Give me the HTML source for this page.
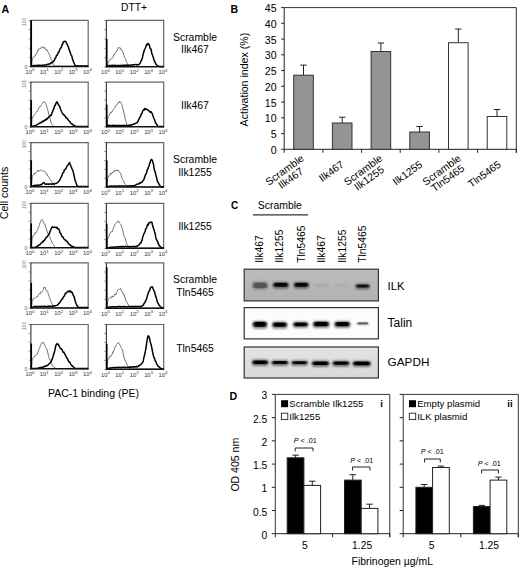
<!DOCTYPE html>
<html><head><meta charset="utf-8"><style>
html,body{margin:0;padding:0;background:#fff;width:520px;height:570px;overflow:hidden}
svg{display:block}
</style></head><body>
<svg width="520" height="570" viewBox="0 0 520 570" font-family="Liberation Sans, sans-serif" fill="#000">
<text x="1.5" y="12.7" font-size="10.6" font-weight="bold">A</text>
<text x="121" y="10.6" font-size="10.3">DTT+</text>
<path d="M30.6,20.4 H88.2 V67.4" fill="none" stroke="#666" stroke-width="1.2"/>
<line x1="28.6" y1="66.6" x2="30.6" y2="66.6" stroke="#888" stroke-width="0.8"/>
<line x1="28.6" y1="57.4" x2="30.6" y2="57.4" stroke="#888" stroke-width="0.8"/>
<line x1="28.6" y1="48.1" x2="30.6" y2="48.1" stroke="#888" stroke-width="0.8"/>
<line x1="28.6" y1="38.9" x2="30.6" y2="38.9" stroke="#888" stroke-width="0.8"/>
<line x1="28.6" y1="29.6" x2="30.6" y2="29.6" stroke="#888" stroke-width="0.8"/>
<line x1="28.6" y1="20.4" x2="30.6" y2="20.4" stroke="#888" stroke-width="0.8"/>
<path d="M31.50,66.20 L32.07,60.53 L32.63,58.55 L33.20,57.74 L33.77,56.61 L34.34,56.00 L34.90,56.46 L35.47,55.94 L36.04,53.55 L36.60,53.67 L37.17,52.70 L37.74,50.14 L38.30,50.31 L38.87,48.82 L39.44,49.05 L40.01,48.29 L40.57,48.89 L41.14,47.56 L41.71,46.80 L42.27,47.31 L42.84,46.77 L43.41,46.96 L43.97,48.42 L44.54,47.37 L45.11,48.16 L45.67,49.25 L46.24,50.36 L46.81,49.45 L47.38,51.23 L47.94,51.85 L48.51,52.74 L49.08,54.25 L49.64,55.12 L50.21,57.35 L50.78,58.07 L51.34,59.94 L51.91,60.71 L52.48,62.31 L53.05,64.26 L53.61,64.94 L54.18,65.48 L54.75,65.71 L55.31,66.16 L55.88,66.20 L56.45,66.20 L57.02,66.20 L57.58,66.20 L58.15,66.20 L58.72,66.20 L59.28,66.20 L59.85,66.20 L60.42,66.20 L60.98,66.20 L61.55,66.20 L62.12,66.20 L62.69,66.20 L63.25,66.20 L63.82,66.20 L64.39,66.20 L64.95,66.20 L65.52,66.20 L66.09,66.20 L66.65,66.20 L67.22,66.20 L67.79,66.20 L68.36,66.20 L68.92,66.20 L69.49,66.20 L70.06,66.20 L70.62,66.20 L71.19,66.20 L71.76,66.20 L72.32,66.20 L72.89,66.20 L73.46,66.20 L74.03,66.20 L74.59,66.20 L75.16,66.20 L75.73,66.20 L76.29,66.20 L76.86,66.20 L77.43,66.20 L77.99,66.20 L78.56,66.20 L79.13,66.20 L79.69,66.20 L80.26,66.20 L80.83,66.20 L81.40,66.20 L81.96,66.20 L82.53,66.20 L83.10,66.20 L83.66,66.20 L84.23,66.20 L84.80,66.20 L85.37,66.20 L85.93,66.20 L86.50,66.20 L87.07,66.20 L87.63,66.20 L88.20,66.20" fill="none" stroke="#585858" stroke-width="0.85" stroke-linejoin="round"/>
<path d="M31.50,66.10 L32.07,65.94 L32.63,65.78 L33.20,65.61 L33.77,65.67 L34.34,65.58 L34.90,65.60 L35.47,65.59 L36.04,65.50 L36.60,65.49 L37.17,65.37 L37.74,65.43 L38.30,65.33 L38.87,65.35 L39.44,65.28 L40.01,65.38 L40.57,65.54 L41.14,65.25 L41.71,65.17 L42.27,65.14 L42.84,65.23 L43.41,65.11 L43.97,65.26 L44.54,64.92 L45.11,64.96 L45.67,65.01 L46.24,65.03 L46.81,64.53 L47.38,64.32 L47.94,64.67 L48.51,64.05 L49.08,64.07 L49.64,64.00 L50.21,63.63 L50.78,62.98 L51.34,62.57 L51.91,62.90 L52.48,61.99 L53.05,62.04 L53.61,60.84 L54.18,60.61 L54.75,59.27 L55.31,58.12 L55.88,57.51 L56.45,55.54 L57.02,55.26 L57.58,54.47 L58.15,52.54 L58.72,52.38 L59.28,51.01 L59.85,49.58 L60.42,48.17 L60.98,47.82 L61.55,46.86 L62.12,44.35 L62.69,44.19 L63.25,42.18 L63.82,41.48 L64.39,41.59 L64.95,41.24 L65.52,41.61 L66.09,42.25 L66.65,43.30 L67.22,44.49 L67.79,45.82 L68.36,46.84 L68.92,49.10 L69.49,50.63 L70.06,51.55 L70.62,53.76 L71.19,55.17 L71.76,55.87 L72.32,58.21 L72.89,59.83 L73.46,61.86 L74.03,62.99 L74.59,64.26 L75.16,65.38 L75.73,65.60 L76.29,65.97 L76.86,66.10 L77.43,66.10 L77.99,66.10 L78.56,66.10 L79.13,66.10 L79.69,66.10 L80.26,66.10 L80.83,66.10 L81.40,66.10 L81.96,66.10 L82.53,66.10 L83.10,66.10 L83.66,66.10 L84.23,66.10 L84.80,66.10 L85.37,66.10 L85.93,66.10 L86.50,66.10 L87.07,66.10 L87.63,66.10 L88.20,66.10" fill="none" stroke="#000" stroke-width="1.5" stroke-linejoin="round"/>
<line x1="30.9" y1="19.9" x2="30.9" y2="67.4" stroke="#333" stroke-width="1.1"/>
<line x1="31.2" y1="20.4" x2="31.2" y2="66.6" stroke="#000" stroke-width="1.7"/>
<line x1="30.6" y1="66.4" x2="88.2" y2="66.4" stroke="#111" stroke-width="1.5"/>
<text transform="translate(26.2,21.9) rotate(-90)" font-size="5" fill="#777" text-anchor="middle">100</text>
<text x="27.4" y="68.6" font-size="5" fill="#555" text-anchor="end">0</text>
<text x="29.9" y="73.9" font-size="5.8" fill="#333" text-anchor="middle">10<tspan dy="-2.6" font-size="4.4">0</tspan></text>
<text x="44.3" y="73.9" font-size="5.8" fill="#333" text-anchor="middle">10<tspan dy="-2.6" font-size="4.4">1</tspan></text>
<text x="58.7" y="73.9" font-size="5.8" fill="#333" text-anchor="middle">10<tspan dy="-2.6" font-size="4.4">2</tspan></text>
<text x="73.1" y="73.9" font-size="5.8" fill="#333" text-anchor="middle">10<tspan dy="-2.6" font-size="4.4">3</tspan></text>
<text x="87.5" y="73.9" font-size="5.8" fill="#333" text-anchor="middle">10<tspan dy="-2.6" font-size="4.4">4</tspan></text>
<path d="M106.1,20.4 H163.7 V67.7" fill="none" stroke="#666" stroke-width="1.2"/>
<line x1="104.1" y1="66.9" x2="106.1" y2="66.9" stroke="#888" stroke-width="0.8"/>
<line x1="104.1" y1="57.6" x2="106.1" y2="57.6" stroke="#888" stroke-width="0.8"/>
<line x1="104.1" y1="48.3" x2="106.1" y2="48.3" stroke="#888" stroke-width="0.8"/>
<line x1="104.1" y1="39.0" x2="106.1" y2="39.0" stroke="#888" stroke-width="0.8"/>
<line x1="104.1" y1="29.7" x2="106.1" y2="29.7" stroke="#888" stroke-width="0.8"/>
<line x1="104.1" y1="20.4" x2="106.1" y2="20.4" stroke="#888" stroke-width="0.8"/>
<path d="M107.00,66.50 L107.57,64.01 L108.13,63.12 L108.70,61.46 L109.27,60.80 L109.83,59.79 L110.40,59.62 L110.97,58.52 L111.54,57.90 L112.10,58.46 L112.67,57.77 L113.24,55.96 L113.80,54.56 L114.37,54.96 L114.94,53.63 L115.50,52.38 L116.07,51.98 L116.64,50.95 L117.21,50.11 L117.77,48.87 L118.34,47.50 L118.91,47.85 L119.47,47.89 L120.04,47.49 L120.61,49.59 L121.17,49.16 L121.74,49.56 L122.31,51.32 L122.88,52.79 L123.44,53.18 L124.01,55.88 L124.58,57.50 L125.14,58.44 L125.71,59.45 L126.28,61.63 L126.84,62.61 L127.41,63.67 L127.98,64.10 L128.55,65.13 L129.11,65.50 L129.68,66.16 L130.25,66.27 L130.81,66.38 L131.38,66.48 L131.95,66.50 L132.51,66.50 L133.08,66.50 L133.65,66.50 L134.22,66.50 L134.78,66.50 L135.35,66.50 L135.92,66.50 L136.48,66.50 L137.05,66.50 L137.62,66.50 L138.19,66.50 L138.75,66.50 L139.32,66.50 L139.89,66.50 L140.45,66.50 L141.02,66.50 L141.59,66.50 L142.15,66.50 L142.72,66.50 L143.29,66.50 L143.85,66.50 L144.42,66.50 L144.99,66.50 L145.56,66.50 L146.12,66.50 L146.69,66.50 L147.26,66.50 L147.82,66.50 L148.39,66.50 L148.96,66.50 L149.52,66.50 L150.09,66.50 L150.66,66.50 L151.23,66.50 L151.79,66.50 L152.36,66.50 L152.93,66.50 L153.49,66.50 L154.06,66.50 L154.63,66.50 L155.19,66.50 L155.76,66.50 L156.33,66.50 L156.90,66.50 L157.46,66.50 L158.03,66.50 L158.60,66.50 L159.16,66.50 L159.73,66.50 L160.30,66.50 L160.86,66.50 L161.43,66.50 L162.00,66.50 L162.57,66.50 L163.13,66.50 L163.70,66.50" fill="none" stroke="#585858" stroke-width="0.85" stroke-linejoin="round"/>
<path d="M107.00,66.40 L107.57,66.18 L108.13,65.89 L108.70,65.56 L109.27,65.56 L109.83,65.59 L110.40,65.63 L110.97,65.46 L111.54,65.60 L112.10,65.34 L112.67,65.32 L113.24,65.61 L113.80,65.57 L114.37,65.34 L114.94,65.41 L115.50,65.34 L116.07,65.54 L116.64,65.63 L117.21,65.56 L117.77,65.34 L118.34,65.57 L118.91,65.54 L119.47,65.51 L120.04,65.50 L120.61,65.51 L121.17,65.29 L121.74,65.62 L122.31,65.68 L122.88,65.26 L123.44,65.27 L124.01,65.20 L124.58,65.42 L125.14,65.16 L125.71,65.14 L126.28,65.44 L126.84,65.16 L127.41,65.08 L127.98,65.13 L128.55,65.17 L129.11,65.25 L129.68,65.19 L130.25,65.22 L130.81,65.27 L131.38,64.97 L131.95,65.10 L132.51,64.79 L133.08,65.18 L133.65,64.69 L134.22,64.79 L134.78,64.64 L135.35,64.62 L135.92,64.59 L136.48,64.73 L137.05,65.01 L137.62,64.53 L138.19,64.81 L138.75,64.66 L139.32,64.12 L139.89,63.50 L140.45,62.62 L141.02,60.97 L141.59,60.00 L142.15,58.45 L142.72,56.38 L143.29,53.28 L143.85,52.07 L144.42,49.76 L144.99,48.77 L145.56,47.55 L146.12,45.88 L146.69,44.54 L147.26,44.92 L147.82,43.59 L148.39,43.68 L148.96,44.68 L149.52,45.76 L150.09,48.33 L150.66,48.61 L151.23,49.92 L151.79,53.20 L152.36,54.71 L152.93,56.45 L153.49,57.96 L154.06,59.93 L154.63,61.50 L155.19,62.44 L155.76,63.92 L156.33,64.57 L156.90,65.09 L157.46,65.54 L158.03,65.92 L158.60,66.02 L159.16,66.37 L159.73,66.40 L160.30,66.40 L160.86,66.40 L161.43,66.40 L162.00,66.40 L162.57,66.40 L163.13,66.40 L163.70,66.40" fill="none" stroke="#000" stroke-width="1.5" stroke-linejoin="round"/>
<line x1="106.4" y1="19.9" x2="106.4" y2="67.7" stroke="#333" stroke-width="1.1"/>
<line x1="106.7" y1="39.0" x2="106.7" y2="66.9" stroke="#000" stroke-width="1.7"/>
<line x1="106.1" y1="66.7" x2="163.7" y2="66.7" stroke="#111" stroke-width="1.5"/>
<text x="105.4" y="74.2" font-size="5.8" fill="#333" text-anchor="middle">10<tspan dy="-2.6" font-size="4.4">0</tspan></text>
<text x="119.8" y="74.2" font-size="5.8" fill="#333" text-anchor="middle">10<tspan dy="-2.6" font-size="4.4">1</tspan></text>
<text x="134.2" y="74.2" font-size="5.8" fill="#333" text-anchor="middle">10<tspan dy="-2.6" font-size="4.4">2</tspan></text>
<text x="148.6" y="74.2" font-size="5.8" fill="#333" text-anchor="middle">10<tspan dy="-2.6" font-size="4.4">3</tspan></text>
<text x="163.0" y="74.2" font-size="5.8" fill="#333" text-anchor="middle">10<tspan dy="-2.6" font-size="4.4">4</tspan></text>
<path d="M30.6,82.2 H88.2 V127.7" fill="none" stroke="#666" stroke-width="1.2"/>
<line x1="28.6" y1="126.9" x2="30.6" y2="126.9" stroke="#888" stroke-width="0.8"/>
<line x1="28.6" y1="118.0" x2="30.6" y2="118.0" stroke="#888" stroke-width="0.8"/>
<line x1="28.6" y1="109.0" x2="30.6" y2="109.0" stroke="#888" stroke-width="0.8"/>
<line x1="28.6" y1="100.1" x2="30.6" y2="100.1" stroke="#888" stroke-width="0.8"/>
<line x1="28.6" y1="91.1" x2="30.6" y2="91.1" stroke="#888" stroke-width="0.8"/>
<line x1="28.6" y1="82.2" x2="30.6" y2="82.2" stroke="#888" stroke-width="0.8"/>
<path d="M31.50,126.50 L32.07,118.30 L32.63,117.84 L33.20,116.01 L33.77,115.57 L34.34,115.01 L34.90,114.43 L35.47,113.22 L36.04,112.46 L36.60,111.95 L37.17,111.32 L37.74,110.09 L38.30,109.56 L38.87,107.82 L39.44,106.69 L40.01,106.62 L40.57,106.51 L41.14,105.58 L41.71,104.47 L42.27,103.33 L42.84,102.37 L43.41,102.66 L43.97,101.49 L44.54,101.68 L45.11,102.35 L45.67,103.61 L46.24,105.03 L46.81,106.46 L47.38,108.77 L47.94,110.29 L48.51,113.04 L49.08,115.75 L49.64,117.41 L50.21,119.14 L50.78,121.92 L51.34,123.27 L51.91,124.56 L52.48,125.03 L53.05,125.70 L53.61,126.33 L54.18,126.50 L54.75,126.50 L55.31,126.50 L55.88,126.50 L56.45,126.50 L57.02,126.50 L57.58,126.50 L58.15,126.50 L58.72,126.50 L59.28,126.50 L59.85,126.50 L60.42,126.50 L60.98,126.50 L61.55,126.50 L62.12,126.50 L62.69,126.50 L63.25,126.50 L63.82,126.50 L64.39,126.50 L64.95,126.50 L65.52,126.50 L66.09,126.50 L66.65,126.50 L67.22,126.50 L67.79,126.50 L68.36,126.50 L68.92,126.50 L69.49,126.50 L70.06,126.50 L70.62,126.50 L71.19,126.50 L71.76,126.50 L72.32,126.50 L72.89,126.50 L73.46,126.50 L74.03,126.50 L74.59,126.50 L75.16,126.50 L75.73,126.50 L76.29,126.50 L76.86,126.50 L77.43,126.50 L77.99,126.50 L78.56,126.50 L79.13,126.50 L79.69,126.50 L80.26,126.50 L80.83,126.50 L81.40,126.50 L81.96,126.50 L82.53,126.50 L83.10,126.50 L83.66,126.50 L84.23,126.50 L84.80,126.50 L85.37,126.50 L85.93,126.50 L86.50,126.50 L87.07,126.50 L87.63,126.50 L88.20,126.50" fill="none" stroke="#585858" stroke-width="0.85" stroke-linejoin="round"/>
<path d="M31.50,126.40 L32.07,126.31 L32.63,126.23 L33.20,126.17 L33.77,125.94 L34.34,125.83 L34.90,125.84 L35.47,125.57 L36.04,125.49 L36.60,124.89 L37.17,124.67 L37.74,124.21 L38.30,123.92 L38.87,123.64 L39.44,123.22 L40.01,122.98 L40.57,123.00 L41.14,122.21 L41.71,122.39 L42.27,121.91 L42.84,120.95 L43.41,121.37 L43.97,121.02 L44.54,120.71 L45.11,119.54 L45.67,120.01 L46.24,119.87 L46.81,118.55 L47.38,119.05 L47.94,117.75 L48.51,117.52 L49.08,116.81 L49.64,116.11 L50.21,116.04 L50.78,115.06 L51.34,115.26 L51.91,112.90 L52.48,111.90 L53.05,110.08 L53.61,109.59 L54.18,107.23 L54.75,105.50 L55.31,105.33 L55.88,103.52 L56.45,102.28 L57.02,101.80 L57.58,103.25 L58.15,104.22 L58.72,105.21 L59.28,105.82 L59.85,106.77 L60.42,108.67 L60.98,110.24 L61.55,111.54 L62.12,112.62 L62.69,113.41 L63.25,114.75 L63.82,114.87 L64.39,114.91 L64.95,116.39 L65.52,116.58 L66.09,117.99 L66.65,117.93 L67.22,118.49 L67.79,119.25 L68.36,120.09 L68.92,120.80 L69.49,121.31 L70.06,121.74 L70.62,123.03 L71.19,123.64 L71.76,123.71 L72.32,124.13 L72.89,124.83 L73.46,125.24 L74.03,125.42 L74.59,125.87 L75.16,126.07 L75.73,126.21 L76.29,126.35 L76.86,126.40 L77.43,126.40 L77.99,126.40 L78.56,126.40 L79.13,126.40 L79.69,126.40 L80.26,126.40 L80.83,126.40 L81.40,126.40 L81.96,126.40 L82.53,126.40 L83.10,126.40 L83.66,126.40 L84.23,126.40 L84.80,126.40 L85.37,126.40 L85.93,126.40 L86.50,126.40 L87.07,126.40 L87.63,126.40 L88.20,126.40" fill="none" stroke="#000" stroke-width="1.5" stroke-linejoin="round"/>
<line x1="30.9" y1="81.7" x2="30.9" y2="127.7" stroke="#333" stroke-width="1.1"/>
<line x1="31.2" y1="100.1" x2="31.2" y2="126.9" stroke="#000" stroke-width="1.7"/>
<line x1="30.6" y1="126.7" x2="88.2" y2="126.7" stroke="#111" stroke-width="1.5"/>
<text transform="translate(26.2,83.7) rotate(-90)" font-size="5" fill="#777" text-anchor="middle">100</text>
<text x="27.4" y="128.9" font-size="5" fill="#555" text-anchor="end">0</text>
<text x="29.9" y="134.2" font-size="5.8" fill="#333" text-anchor="middle">10<tspan dy="-2.6" font-size="4.4">0</tspan></text>
<text x="44.3" y="134.2" font-size="5.8" fill="#333" text-anchor="middle">10<tspan dy="-2.6" font-size="4.4">1</tspan></text>
<text x="58.7" y="134.2" font-size="5.8" fill="#333" text-anchor="middle">10<tspan dy="-2.6" font-size="4.4">2</tspan></text>
<text x="73.1" y="134.2" font-size="5.8" fill="#333" text-anchor="middle">10<tspan dy="-2.6" font-size="4.4">3</tspan></text>
<text x="87.5" y="134.2" font-size="5.8" fill="#333" text-anchor="middle">10<tspan dy="-2.6" font-size="4.4">4</tspan></text>
<path d="M106.1,82.2 H163.7 V127.7" fill="none" stroke="#666" stroke-width="1.2"/>
<line x1="104.1" y1="126.9" x2="106.1" y2="126.9" stroke="#888" stroke-width="0.8"/>
<line x1="104.1" y1="118.0" x2="106.1" y2="118.0" stroke="#888" stroke-width="0.8"/>
<line x1="104.1" y1="109.0" x2="106.1" y2="109.0" stroke="#888" stroke-width="0.8"/>
<line x1="104.1" y1="100.1" x2="106.1" y2="100.1" stroke="#888" stroke-width="0.8"/>
<line x1="104.1" y1="91.1" x2="106.1" y2="91.1" stroke="#888" stroke-width="0.8"/>
<line x1="104.1" y1="82.2" x2="106.1" y2="82.2" stroke="#888" stroke-width="0.8"/>
<path d="M107.00,126.50 L107.57,119.27 L108.13,116.87 L108.70,115.97 L109.27,115.12 L109.83,113.49 L110.40,112.38 L110.97,113.16 L111.54,111.84 L112.10,111.81 L112.67,110.16 L113.24,109.74 L113.80,109.37 L114.37,108.46 L114.94,107.85 L115.50,106.02 L116.07,105.37 L116.64,105.08 L117.21,104.15 L117.77,103.69 L118.34,102.29 L118.91,103.09 L119.47,101.11 L120.04,101.96 L120.61,102.01 L121.17,103.39 L121.74,104.32 L122.31,106.20 L122.88,108.56 L123.44,111.00 L124.01,113.15 L124.58,115.63 L125.14,118.86 L125.71,120.55 L126.28,122.52 L126.84,124.69 L127.41,125.63 L127.98,126.14 L128.55,126.41 L129.11,126.50 L129.68,126.50 L130.25,126.50 L130.81,126.50 L131.38,126.50 L131.95,126.50 L132.51,126.50 L133.08,126.50 L133.65,126.50 L134.22,126.50 L134.78,126.50 L135.35,126.50 L135.92,126.50 L136.48,126.50 L137.05,126.50 L137.62,126.50 L138.19,126.50 L138.75,126.50 L139.32,126.50 L139.89,126.50 L140.45,126.50 L141.02,126.50 L141.59,126.50 L142.15,126.50 L142.72,126.50 L143.29,126.50 L143.85,126.50 L144.42,126.50 L144.99,126.50 L145.56,126.50 L146.12,126.50 L146.69,126.50 L147.26,126.50 L147.82,126.50 L148.39,126.50 L148.96,126.50 L149.52,126.50 L150.09,126.50 L150.66,126.50 L151.23,126.50 L151.79,126.50 L152.36,126.50 L152.93,126.50 L153.49,126.50 L154.06,126.50 L154.63,126.50 L155.19,126.50 L155.76,126.50 L156.33,126.50 L156.90,126.50 L157.46,126.50 L158.03,126.50 L158.60,126.50 L159.16,126.50 L159.73,126.50 L160.30,126.50 L160.86,126.50 L161.43,126.50 L162.00,126.50 L162.57,126.50 L163.13,126.50 L163.70,126.50" fill="none" stroke="#585858" stroke-width="0.85" stroke-linejoin="round"/>
<path d="M107.00,126.40 L107.57,125.89 L108.13,125.50 L108.70,125.32 L109.27,125.36 L109.83,125.61 L110.40,125.63 L110.97,125.61 L111.54,125.64 L112.10,125.42 L112.67,125.36 L113.24,125.34 L113.80,125.61 L114.37,125.35 L114.94,125.58 L115.50,125.54 L116.07,125.41 L116.64,125.68 L117.21,125.68 L117.77,125.37 L118.34,125.59 L118.91,125.57 L119.47,125.47 L120.04,125.43 L120.61,125.71 L121.17,125.57 L121.74,125.53 L122.31,125.51 L122.88,125.63 L123.44,125.47 L124.01,125.32 L124.58,125.55 L125.14,125.49 L125.71,125.66 L126.28,125.60 L126.84,125.44 L127.41,125.67 L127.98,125.35 L128.55,125.33 L129.11,125.62 L129.68,125.17 L130.25,125.30 L130.81,124.96 L131.38,124.81 L131.95,124.89 L132.51,124.51 L133.08,124.35 L133.65,124.07 L134.22,124.23 L134.78,123.66 L135.35,123.24 L135.92,123.14 L136.48,122.89 L137.05,122.78 L137.62,121.73 L138.19,120.95 L138.75,119.47 L139.32,118.35 L139.89,117.29 L140.45,116.67 L141.02,114.89 L141.59,113.65 L142.15,113.10 L142.72,110.81 L143.29,110.31 L143.85,110.36 L144.42,108.44 L144.99,109.55 L145.56,109.34 L146.12,108.91 L146.69,109.37 L147.26,109.71 L147.82,109.83 L148.39,110.43 L148.96,111.00 L149.52,111.59 L150.09,112.19 L150.66,111.63 L151.23,112.12 L151.79,113.10 L152.36,113.78 L152.93,115.68 L153.49,117.33 L154.06,118.80 L154.63,119.85 L155.19,122.12 L155.76,122.82 L156.33,124.00 L156.90,124.68 L157.46,125.74 L158.03,126.26 L158.60,126.40 L159.16,126.40 L159.73,126.40 L160.30,126.40 L160.86,126.40 L161.43,126.40 L162.00,126.40 L162.57,126.40 L163.13,126.40 L163.70,126.40" fill="none" stroke="#000" stroke-width="1.5" stroke-linejoin="round"/>
<line x1="106.4" y1="81.7" x2="106.4" y2="127.7" stroke="#333" stroke-width="1.1"/>
<line x1="106.7" y1="104.6" x2="106.7" y2="126.9" stroke="#000" stroke-width="1.7"/>
<line x1="106.1" y1="126.7" x2="163.7" y2="126.7" stroke="#111" stroke-width="1.5"/>
<text x="105.4" y="134.2" font-size="5.8" fill="#333" text-anchor="middle">10<tspan dy="-2.6" font-size="4.4">0</tspan></text>
<text x="119.8" y="134.2" font-size="5.8" fill="#333" text-anchor="middle">10<tspan dy="-2.6" font-size="4.4">1</tspan></text>
<text x="134.2" y="134.2" font-size="5.8" fill="#333" text-anchor="middle">10<tspan dy="-2.6" font-size="4.4">2</tspan></text>
<text x="148.6" y="134.2" font-size="5.8" fill="#333" text-anchor="middle">10<tspan dy="-2.6" font-size="4.4">3</tspan></text>
<text x="163.0" y="134.2" font-size="5.8" fill="#333" text-anchor="middle">10<tspan dy="-2.6" font-size="4.4">4</tspan></text>
<path d="M30.6,142.6 H88.2 V187.7" fill="none" stroke="#666" stroke-width="1.2"/>
<line x1="28.6" y1="186.9" x2="30.6" y2="186.9" stroke="#888" stroke-width="0.8"/>
<line x1="28.6" y1="178.0" x2="30.6" y2="178.0" stroke="#888" stroke-width="0.8"/>
<line x1="28.6" y1="169.2" x2="30.6" y2="169.2" stroke="#888" stroke-width="0.8"/>
<line x1="28.6" y1="160.3" x2="30.6" y2="160.3" stroke="#888" stroke-width="0.8"/>
<line x1="28.6" y1="151.5" x2="30.6" y2="151.5" stroke="#888" stroke-width="0.8"/>
<line x1="28.6" y1="142.6" x2="30.6" y2="142.6" stroke="#888" stroke-width="0.8"/>
<path d="M31.50,186.50 L32.07,177.07 L32.63,175.79 L33.20,174.91 L33.77,174.07 L34.34,174.37 L34.90,172.78 L35.47,173.53 L36.04,172.55 L36.60,172.28 L37.17,171.76 L37.74,170.13 L38.30,170.11 L38.87,171.17 L39.44,171.16 L40.01,170.71 L40.57,170.08 L41.14,169.94 L41.71,170.07 L42.27,170.37 L42.84,171.28 L43.41,170.97 L43.97,171.64 L44.54,171.34 L45.11,171.65 L45.67,172.84 L46.24,173.47 L46.81,173.36 L47.38,175.78 L47.94,175.49 L48.51,176.44 L49.08,177.38 L49.64,179.12 L50.21,179.73 L50.78,180.54 L51.34,181.31 L51.91,181.75 L52.48,182.86 L53.05,183.95 L53.61,184.18 L54.18,185.24 L54.75,185.92 L55.31,186.43 L55.88,186.50 L56.45,186.50 L57.02,186.50 L57.58,186.50 L58.15,186.50 L58.72,186.50 L59.28,186.50 L59.85,186.50 L60.42,186.50 L60.98,186.50 L61.55,186.50 L62.12,186.50 L62.69,186.50 L63.25,186.50 L63.82,186.50 L64.39,186.50 L64.95,186.50 L65.52,186.50 L66.09,186.50 L66.65,186.50 L67.22,186.50 L67.79,186.50 L68.36,186.50 L68.92,186.50 L69.49,186.50 L70.06,186.50 L70.62,186.50 L71.19,186.50 L71.76,186.50 L72.32,186.50 L72.89,186.50 L73.46,186.50 L74.03,186.50 L74.59,186.50 L75.16,186.50 L75.73,186.50 L76.29,186.50 L76.86,186.50 L77.43,186.50 L77.99,186.50 L78.56,186.50 L79.13,186.50 L79.69,186.50 L80.26,186.50 L80.83,186.50 L81.40,186.50 L81.96,186.50 L82.53,186.50 L83.10,186.50 L83.66,186.50 L84.23,186.50 L84.80,186.50 L85.37,186.50 L85.93,186.50 L86.50,186.50 L87.07,186.50 L87.63,186.50 L88.20,186.50" fill="none" stroke="#585858" stroke-width="0.85" stroke-linejoin="round"/>
<path d="M31.50,186.40 L32.07,186.21 L32.63,185.95 L33.20,185.98 L33.77,185.54 L34.34,185.45 L34.90,185.42 L35.47,185.33 L36.04,185.30 L36.60,185.37 L37.17,185.17 L37.74,185.37 L38.30,185.10 L38.87,184.97 L39.44,185.01 L40.01,184.87 L40.57,184.56 L41.14,184.47 L41.71,184.70 L42.27,183.64 L42.84,182.96 L43.41,182.89 L43.97,182.63 L44.54,183.32 L45.11,184.13 L45.67,184.16 L46.24,183.91 L46.81,184.30 L47.38,183.94 L47.94,184.06 L48.51,184.42 L49.08,183.95 L49.64,184.12 L50.21,183.91 L50.78,184.04 L51.34,184.03 L51.91,184.29 L52.48,183.99 L53.05,183.90 L53.61,183.87 L54.18,184.03 L54.75,183.62 L55.31,183.58 L55.88,183.59 L56.45,183.33 L57.02,182.96 L57.58,182.47 L58.15,182.09 L58.72,181.32 L59.28,180.59 L59.85,179.91 L60.42,178.92 L60.98,177.33 L61.55,176.41 L62.12,174.81 L62.69,173.08 L63.25,172.58 L63.82,171.98 L64.39,169.95 L64.95,169.38 L65.52,169.09 L66.09,168.22 L66.65,167.00 L67.22,165.75 L67.79,165.19 L68.36,164.54 L68.92,163.55 L69.49,162.51 L70.06,164.30 L70.62,165.14 L71.19,166.95 L71.76,168.16 L72.32,169.53 L72.89,170.65 L73.46,172.88 L74.03,175.61 L74.59,178.21 L75.16,180.53 L75.73,181.88 L76.29,183.76 L76.86,185.08 L77.43,185.88 L77.99,186.38 L78.56,186.40 L79.13,186.40 L79.69,186.40 L80.26,186.40 L80.83,186.40 L81.40,186.40 L81.96,186.40 L82.53,186.40 L83.10,186.40 L83.66,186.40 L84.23,186.40 L84.80,186.40 L85.37,186.40 L85.93,186.40 L86.50,186.40 L87.07,186.40 L87.63,186.40 L88.20,186.40" fill="none" stroke="#000" stroke-width="1.5" stroke-linejoin="round"/>
<line x1="30.9" y1="142.1" x2="30.9" y2="187.7" stroke="#333" stroke-width="1.1"/>
<line x1="31.2" y1="160.3" x2="31.2" y2="186.9" stroke="#000" stroke-width="1.7"/>
<line x1="30.6" y1="186.7" x2="88.2" y2="186.7" stroke="#111" stroke-width="1.5"/>
<text transform="translate(26.2,144.1) rotate(-90)" font-size="5" fill="#777" text-anchor="middle">100</text>
<text x="27.4" y="188.9" font-size="5" fill="#555" text-anchor="end">0</text>
<text x="29.9" y="194.2" font-size="5.8" fill="#333" text-anchor="middle">10<tspan dy="-2.6" font-size="4.4">0</tspan></text>
<text x="44.3" y="194.2" font-size="5.8" fill="#333" text-anchor="middle">10<tspan dy="-2.6" font-size="4.4">1</tspan></text>
<text x="58.7" y="194.2" font-size="5.8" fill="#333" text-anchor="middle">10<tspan dy="-2.6" font-size="4.4">2</tspan></text>
<text x="73.1" y="194.2" font-size="5.8" fill="#333" text-anchor="middle">10<tspan dy="-2.6" font-size="4.4">3</tspan></text>
<text x="87.5" y="194.2" font-size="5.8" fill="#333" text-anchor="middle">10<tspan dy="-2.6" font-size="4.4">4</tspan></text>
<path d="M106.1,142.6 H163.7 V188.0" fill="none" stroke="#666" stroke-width="1.2"/>
<line x1="104.1" y1="187.2" x2="106.1" y2="187.2" stroke="#888" stroke-width="0.8"/>
<line x1="104.1" y1="178.3" x2="106.1" y2="178.3" stroke="#888" stroke-width="0.8"/>
<line x1="104.1" y1="169.4" x2="106.1" y2="169.4" stroke="#888" stroke-width="0.8"/>
<line x1="104.1" y1="160.4" x2="106.1" y2="160.4" stroke="#888" stroke-width="0.8"/>
<line x1="104.1" y1="151.5" x2="106.1" y2="151.5" stroke="#888" stroke-width="0.8"/>
<line x1="104.1" y1="142.6" x2="106.1" y2="142.6" stroke="#888" stroke-width="0.8"/>
<path d="M107.00,186.80 L107.57,178.45 L108.13,176.45 L108.70,176.52 L109.27,175.16 L109.83,174.66 L110.40,174.97 L110.97,172.75 L111.54,173.71 L112.10,173.44 L112.67,172.18 L113.24,172.31 L113.80,170.97 L114.37,171.14 L114.94,171.29 L115.50,171.24 L116.07,169.85 L116.64,170.78 L117.21,169.89 L117.77,170.70 L118.34,170.01 L118.91,171.51 L119.47,172.06 L120.04,172.96 L120.61,173.21 L121.17,175.13 L121.74,177.28 L122.31,179.26 L122.88,179.83 L123.44,180.63 L124.01,181.95 L124.58,183.36 L125.14,183.99 L125.71,184.55 L126.28,185.03 L126.84,185.60 L127.41,185.97 L127.98,186.01 L128.55,186.30 L129.11,186.69 L129.68,186.80 L130.25,186.80 L130.81,186.80 L131.38,186.80 L131.95,186.80 L132.51,186.80 L133.08,186.80 L133.65,186.80 L134.22,186.80 L134.78,186.80 L135.35,186.80 L135.92,186.80 L136.48,186.80 L137.05,186.80 L137.62,186.80 L138.19,186.80 L138.75,186.80 L139.32,186.80 L139.89,186.80 L140.45,186.80 L141.02,186.80 L141.59,186.80 L142.15,186.80 L142.72,186.80 L143.29,186.80 L143.85,186.80 L144.42,186.80 L144.99,186.80 L145.56,186.80 L146.12,186.80 L146.69,186.80 L147.26,186.80 L147.82,186.80 L148.39,186.80 L148.96,186.80 L149.52,186.80 L150.09,186.80 L150.66,186.80 L151.23,186.80 L151.79,186.80 L152.36,186.80 L152.93,186.80 L153.49,186.80 L154.06,186.80 L154.63,186.80 L155.19,186.80 L155.76,186.80 L156.33,186.80 L156.90,186.80 L157.46,186.80 L158.03,186.80 L158.60,186.80 L159.16,186.80 L159.73,186.80 L160.30,186.80 L160.86,186.80 L161.43,186.80 L162.00,186.80 L162.57,186.80 L163.13,186.80 L163.70,186.80" fill="none" stroke="#585858" stroke-width="0.85" stroke-linejoin="round"/>
<path d="M107.00,186.70 L107.57,186.60 L108.13,186.49 L108.70,186.46 L109.27,186.17 L109.83,186.26 L110.40,186.14 L110.97,186.08 L111.54,186.05 L112.10,186.32 L112.67,186.22 L113.24,186.11 L113.80,185.98 L114.37,186.26 L114.94,186.18 L115.50,185.98 L116.07,186.22 L116.64,186.12 L117.21,186.14 L117.77,186.01 L118.34,185.92 L118.91,186.18 L119.47,185.98 L120.04,185.97 L120.61,185.94 L121.17,186.03 L121.74,185.90 L122.31,186.09 L122.88,186.07 L123.44,186.13 L124.01,185.93 L124.58,186.04 L125.14,186.11 L125.71,186.14 L126.28,185.93 L126.84,185.97 L127.41,185.92 L127.98,186.03 L128.55,185.98 L129.11,186.10 L129.68,185.87 L130.25,186.12 L130.81,185.94 L131.38,185.81 L131.95,185.82 L132.51,186.03 L133.08,185.95 L133.65,185.68 L134.22,185.71 L134.78,185.41 L135.35,185.11 L135.92,184.99 L136.48,184.37 L137.05,184.17 L137.62,184.19 L138.19,183.92 L138.75,183.91 L139.32,183.41 L139.89,182.68 L140.45,183.11 L141.02,182.37 L141.59,182.42 L142.15,182.01 L142.72,180.88 L143.29,180.45 L143.85,179.55 L144.42,178.10 L144.99,175.96 L145.56,174.54 L146.12,174.00 L146.69,172.26 L147.26,169.61 L147.82,169.31 L148.39,167.24 L148.96,165.97 L149.52,163.95 L150.09,162.61 L150.66,160.56 L151.23,159.57 L151.79,159.55 L152.36,160.39 L152.93,162.63 L153.49,164.23 L154.06,168.31 L154.63,170.96 L155.19,171.66 L155.76,175.18 L156.33,176.47 L156.90,179.64 L157.46,181.02 L158.03,182.66 L158.60,183.20 L159.16,184.37 L159.73,185.26 L160.30,185.95 L160.86,186.53 L161.43,186.70 L162.00,186.70 L162.57,186.70 L163.13,186.70 L163.70,186.70" fill="none" stroke="#000" stroke-width="1.5" stroke-linejoin="round"/>
<line x1="106.4" y1="142.1" x2="106.4" y2="188.0" stroke="#333" stroke-width="1.1"/>
<line x1="106.7" y1="160.4" x2="106.7" y2="187.2" stroke="#000" stroke-width="1.7"/>
<line x1="106.1" y1="187.0" x2="163.7" y2="187.0" stroke="#111" stroke-width="1.5"/>
<text x="105.4" y="194.5" font-size="5.8" fill="#333" text-anchor="middle">10<tspan dy="-2.6" font-size="4.4">0</tspan></text>
<text x="119.8" y="194.5" font-size="5.8" fill="#333" text-anchor="middle">10<tspan dy="-2.6" font-size="4.4">1</tspan></text>
<text x="134.2" y="194.5" font-size="5.8" fill="#333" text-anchor="middle">10<tspan dy="-2.6" font-size="4.4">2</tspan></text>
<text x="148.6" y="194.5" font-size="5.8" fill="#333" text-anchor="middle">10<tspan dy="-2.6" font-size="4.4">3</tspan></text>
<text x="163.0" y="194.5" font-size="5.8" fill="#333" text-anchor="middle">10<tspan dy="-2.6" font-size="4.4">4</tspan></text>
<path d="M30.6,203.4 H88.2 V248.7" fill="none" stroke="#666" stroke-width="1.2"/>
<line x1="28.6" y1="247.9" x2="30.6" y2="247.9" stroke="#888" stroke-width="0.8"/>
<line x1="28.6" y1="239.0" x2="30.6" y2="239.0" stroke="#888" stroke-width="0.8"/>
<line x1="28.6" y1="230.1" x2="30.6" y2="230.1" stroke="#888" stroke-width="0.8"/>
<line x1="28.6" y1="221.2" x2="30.6" y2="221.2" stroke="#888" stroke-width="0.8"/>
<line x1="28.6" y1="212.3" x2="30.6" y2="212.3" stroke="#888" stroke-width="0.8"/>
<line x1="28.6" y1="203.4" x2="30.6" y2="203.4" stroke="#888" stroke-width="0.8"/>
<path d="M31.50,247.50 L32.07,238.36 L32.63,237.38 L33.20,235.58 L33.77,234.90 L34.34,234.86 L34.90,232.90 L35.47,232.87 L36.04,231.88 L36.60,232.34 L37.17,230.67 L37.74,229.46 L38.30,227.33 L38.87,226.87 L39.44,224.61 L40.01,222.73 L40.57,222.20 L41.14,220.29 L41.71,219.47 L42.27,220.21 L42.84,220.38 L43.41,221.43 L43.97,223.39 L44.54,224.42 L45.11,224.43 L45.67,226.97 L46.24,228.23 L46.81,230.51 L47.38,231.92 L47.94,233.70 L48.51,233.84 L49.08,235.74 L49.64,236.82 L50.21,237.94 L50.78,239.76 L51.34,240.50 L51.91,242.14 L52.48,243.30 L53.05,243.73 L53.61,244.71 L54.18,245.70 L54.75,246.87 L55.31,247.42 L55.88,247.50 L56.45,247.50 L57.02,247.50 L57.58,247.50 L58.15,247.50 L58.72,247.50 L59.28,247.50 L59.85,247.50 L60.42,247.50 L60.98,247.50 L61.55,247.50 L62.12,247.50 L62.69,247.50 L63.25,247.50 L63.82,247.50 L64.39,247.50 L64.95,247.50 L65.52,247.50 L66.09,247.50 L66.65,247.50 L67.22,247.50 L67.79,247.50 L68.36,247.50 L68.92,247.50 L69.49,247.50 L70.06,247.50 L70.62,247.50 L71.19,247.50 L71.76,247.50 L72.32,247.50 L72.89,247.50 L73.46,247.50 L74.03,247.50 L74.59,247.50 L75.16,247.50 L75.73,247.50 L76.29,247.50 L76.86,247.50 L77.43,247.50 L77.99,247.50 L78.56,247.50 L79.13,247.50 L79.69,247.50 L80.26,247.50 L80.83,247.50 L81.40,247.50 L81.96,247.50 L82.53,247.50 L83.10,247.50 L83.66,247.50 L84.23,247.50 L84.80,247.50 L85.37,247.50 L85.93,247.50 L86.50,247.50 L87.07,247.50 L87.63,247.50 L88.20,247.50" fill="none" stroke="#585858" stroke-width="0.85" stroke-linejoin="round"/>
<path d="M31.50,247.40 L32.07,247.40 L32.63,247.40 L33.20,247.40 L33.77,247.40 L34.34,247.40 L34.90,247.34 L35.47,247.20 L36.04,246.91 L36.60,246.76 L37.17,246.18 L37.74,245.81 L38.30,245.74 L38.87,244.89 L39.44,244.92 L40.01,244.52 L40.57,243.51 L41.14,243.38 L41.71,242.66 L42.27,242.04 L42.84,242.16 L43.41,240.84 L43.97,240.76 L44.54,239.92 L45.11,239.34 L45.67,238.11 L46.24,237.34 L46.81,237.22 L47.38,236.74 L47.94,235.69 L48.51,234.66 L49.08,234.17 L49.64,232.93 L50.21,230.80 L50.78,229.77 L51.34,228.28 L51.91,227.37 L52.48,226.85 L53.05,227.24 L53.61,227.47 L54.18,227.28 L54.75,227.15 L55.31,227.20 L55.88,227.38 L56.45,227.92 L57.02,227.40 L57.58,228.61 L58.15,228.83 L58.72,228.97 L59.28,230.15 L59.85,232.14 L60.42,233.44 L60.98,233.69 L61.55,235.92 L62.12,236.53 L62.69,236.72 L63.25,237.47 L63.82,238.69 L64.39,239.52 L64.95,239.99 L65.52,239.96 L66.09,240.93 L66.65,240.98 L67.22,241.77 L67.79,242.16 L68.36,243.60 L68.92,244.00 L69.49,244.64 L70.06,244.82 L70.62,245.36 L71.19,245.94 L71.76,246.04 L72.32,246.56 L72.89,246.71 L73.46,246.96 L74.03,247.04 L74.59,247.29 L75.16,247.39 L75.73,247.40 L76.29,247.40 L76.86,247.40 L77.43,247.40 L77.99,247.40 L78.56,247.40 L79.13,247.40 L79.69,247.40 L80.26,247.40 L80.83,247.40 L81.40,247.40 L81.96,247.40 L82.53,247.40 L83.10,247.40 L83.66,247.40 L84.23,247.40 L84.80,247.40 L85.37,247.40 L85.93,247.40 L86.50,247.40 L87.07,247.40 L87.63,247.40 L88.20,247.40" fill="none" stroke="#000" stroke-width="1.5" stroke-linejoin="round"/>
<line x1="30.9" y1="202.9" x2="30.9" y2="248.7" stroke="#333" stroke-width="1.1"/>
<line x1="31.2" y1="223.4" x2="31.2" y2="247.9" stroke="#000" stroke-width="1.7"/>
<line x1="30.6" y1="247.7" x2="88.2" y2="247.7" stroke="#111" stroke-width="1.5"/>
<text transform="translate(26.2,204.9) rotate(-90)" font-size="5" fill="#777" text-anchor="middle">100</text>
<text x="27.4" y="249.9" font-size="5" fill="#555" text-anchor="end">0</text>
<text x="29.9" y="255.2" font-size="5.8" fill="#333" text-anchor="middle">10<tspan dy="-2.6" font-size="4.4">0</tspan></text>
<text x="44.3" y="255.2" font-size="5.8" fill="#333" text-anchor="middle">10<tspan dy="-2.6" font-size="4.4">1</tspan></text>
<text x="58.7" y="255.2" font-size="5.8" fill="#333" text-anchor="middle">10<tspan dy="-2.6" font-size="4.4">2</tspan></text>
<text x="73.1" y="255.2" font-size="5.8" fill="#333" text-anchor="middle">10<tspan dy="-2.6" font-size="4.4">3</tspan></text>
<text x="87.5" y="255.2" font-size="5.8" fill="#333" text-anchor="middle">10<tspan dy="-2.6" font-size="4.4">4</tspan></text>
<path d="M106.1,203.4 H163.7 V249.2" fill="none" stroke="#666" stroke-width="1.2"/>
<line x1="104.1" y1="248.4" x2="106.1" y2="248.4" stroke="#888" stroke-width="0.8"/>
<line x1="104.1" y1="239.4" x2="106.1" y2="239.4" stroke="#888" stroke-width="0.8"/>
<line x1="104.1" y1="230.4" x2="106.1" y2="230.4" stroke="#888" stroke-width="0.8"/>
<line x1="104.1" y1="221.4" x2="106.1" y2="221.4" stroke="#888" stroke-width="0.8"/>
<line x1="104.1" y1="212.4" x2="106.1" y2="212.4" stroke="#888" stroke-width="0.8"/>
<line x1="104.1" y1="203.4" x2="106.1" y2="203.4" stroke="#888" stroke-width="0.8"/>
<path d="M107.00,248.00 L107.57,239.44 L108.13,237.75 L108.70,236.73 L109.27,234.97 L109.83,233.82 L110.40,233.12 L110.97,232.07 L111.54,231.62 L112.10,231.85 L112.67,230.95 L113.24,228.46 L113.80,227.07 L114.37,226.27 L114.94,224.34 L115.50,223.70 L116.07,223.23 L116.64,222.68 L117.21,222.52 L117.77,221.18 L118.34,220.92 L118.91,221.42 L119.47,223.04 L120.04,223.58 L120.61,224.13 L121.17,225.50 L121.74,227.10 L122.31,228.99 L122.88,230.81 L123.44,233.75 L124.01,235.92 L124.58,236.87 L125.14,238.07 L125.71,240.51 L126.28,242.36 L126.84,243.95 L127.41,245.18 L127.98,246.01 L128.55,247.00 L129.11,247.24 L129.68,247.80 L130.25,247.99 L130.81,248.00 L131.38,248.00 L131.95,248.00 L132.51,248.00 L133.08,248.00 L133.65,248.00 L134.22,248.00 L134.78,248.00 L135.35,248.00 L135.92,248.00 L136.48,248.00 L137.05,248.00 L137.62,248.00 L138.19,248.00 L138.75,248.00 L139.32,248.00 L139.89,248.00 L140.45,248.00 L141.02,248.00 L141.59,248.00 L142.15,248.00 L142.72,248.00 L143.29,248.00 L143.85,248.00 L144.42,248.00 L144.99,248.00 L145.56,248.00 L146.12,248.00 L146.69,248.00 L147.26,248.00 L147.82,248.00 L148.39,248.00 L148.96,248.00 L149.52,248.00 L150.09,248.00 L150.66,248.00 L151.23,248.00 L151.79,248.00 L152.36,248.00 L152.93,248.00 L153.49,248.00 L154.06,248.00 L154.63,248.00 L155.19,248.00 L155.76,248.00 L156.33,248.00 L156.90,248.00 L157.46,248.00 L158.03,248.00 L158.60,248.00 L159.16,248.00 L159.73,248.00 L160.30,248.00 L160.86,248.00 L161.43,248.00 L162.00,248.00 L162.57,248.00 L163.13,248.00 L163.70,248.00" fill="none" stroke="#585858" stroke-width="0.85" stroke-linejoin="round"/>
<path d="M107.00,247.90 L107.57,247.80 L108.13,247.70 L108.70,247.68 L109.27,247.56 L109.83,247.44 L110.40,247.43 L110.97,247.25 L111.54,247.20 L112.10,247.12 L112.67,247.19 L113.24,247.36 L113.80,247.12 L114.37,247.09 L114.94,247.08 L115.50,247.12 L116.07,246.91 L116.64,246.79 L117.21,247.10 L117.77,246.82 L118.34,246.93 L118.91,246.83 L119.47,246.63 L120.04,246.57 L120.61,246.69 L121.17,246.88 L121.74,246.51 L122.31,246.84 L122.88,246.73 L123.44,246.49 L124.01,246.72 L124.58,246.73 L125.14,246.38 L125.71,246.37 L126.28,246.67 L126.84,246.63 L127.41,246.67 L127.98,246.75 L128.55,246.68 L129.11,246.30 L129.68,246.77 L130.25,246.69 L130.81,246.70 L131.38,246.77 L131.95,246.54 L132.51,246.43 L133.08,246.38 L133.65,246.48 L134.22,246.39 L134.78,246.80 L135.35,246.66 L135.92,246.26 L136.48,246.59 L137.05,246.25 L137.62,245.81 L138.19,245.57 L138.75,244.90 L139.32,244.78 L139.89,244.06 L140.45,242.74 L141.02,242.86 L141.59,240.94 L142.15,240.09 L142.72,236.98 L143.29,235.40 L143.85,233.71 L144.42,233.05 L144.99,231.73 L145.56,229.15 L146.12,228.73 L146.69,227.46 L147.26,225.32 L147.82,224.29 L148.39,224.86 L148.96,222.63 L149.52,222.63 L150.09,222.34 L150.66,222.48 L151.23,222.09 L151.79,221.94 L152.36,224.48 L152.93,226.45 L153.49,228.25 L154.06,230.09 L154.63,232.01 L155.19,233.66 L155.76,237.46 L156.33,239.38 L156.90,239.99 L157.46,241.34 L158.03,242.68 L158.60,244.50 L159.16,245.39 L159.73,245.85 L160.30,246.76 L160.86,247.14 L161.43,247.66 L162.00,247.86 L162.57,247.90 L163.13,247.90 L163.70,247.90" fill="none" stroke="#000" stroke-width="1.5" stroke-linejoin="round"/>
<line x1="106.4" y1="202.9" x2="106.4" y2="249.2" stroke="#333" stroke-width="1.1"/>
<line x1="106.7" y1="223.7" x2="106.7" y2="248.4" stroke="#000" stroke-width="1.7"/>
<line x1="106.1" y1="248.2" x2="163.7" y2="248.2" stroke="#111" stroke-width="1.5"/>
<text x="105.4" y="255.7" font-size="5.8" fill="#333" text-anchor="middle">10<tspan dy="-2.6" font-size="4.4">0</tspan></text>
<text x="119.8" y="255.7" font-size="5.8" fill="#333" text-anchor="middle">10<tspan dy="-2.6" font-size="4.4">1</tspan></text>
<text x="134.2" y="255.7" font-size="5.8" fill="#333" text-anchor="middle">10<tspan dy="-2.6" font-size="4.4">2</tspan></text>
<text x="148.6" y="255.7" font-size="5.8" fill="#333" text-anchor="middle">10<tspan dy="-2.6" font-size="4.4">3</tspan></text>
<text x="163.0" y="255.7" font-size="5.8" fill="#333" text-anchor="middle">10<tspan dy="-2.6" font-size="4.4">4</tspan></text>
<path d="M30.6,262.9 H88.2 V308.9" fill="none" stroke="#666" stroke-width="1.2"/>
<line x1="28.6" y1="308.1" x2="30.6" y2="308.1" stroke="#888" stroke-width="0.8"/>
<line x1="28.6" y1="299.1" x2="30.6" y2="299.1" stroke="#888" stroke-width="0.8"/>
<line x1="28.6" y1="290.0" x2="30.6" y2="290.0" stroke="#888" stroke-width="0.8"/>
<line x1="28.6" y1="281.0" x2="30.6" y2="281.0" stroke="#888" stroke-width="0.8"/>
<line x1="28.6" y1="271.9" x2="30.6" y2="271.9" stroke="#888" stroke-width="0.8"/>
<line x1="28.6" y1="262.9" x2="30.6" y2="262.9" stroke="#888" stroke-width="0.8"/>
<path d="M31.50,307.70 L32.07,301.33 L32.63,299.95 L33.20,298.65 L33.77,298.11 L34.34,298.13 L34.90,298.06 L35.47,297.72 L36.04,297.63 L36.60,297.14 L37.17,296.12 L37.74,296.71 L38.30,295.40 L38.87,294.12 L39.44,293.63 L40.01,294.30 L40.57,292.08 L41.14,291.66 L41.71,292.21 L42.27,291.08 L42.84,290.26 L43.41,289.69 L43.97,287.20 L44.54,288.01 L45.11,287.24 L45.67,289.44 L46.24,290.71 L46.81,290.30 L47.38,291.82 L47.94,292.71 L48.51,294.62 L49.08,296.38 L49.64,297.51 L50.21,300.12 L50.78,300.90 L51.34,302.35 L51.91,303.90 L52.48,304.60 L53.05,305.86 L53.61,306.52 L54.18,307.29 L54.75,307.68 L55.31,307.70 L55.88,307.70 L56.45,307.70 L57.02,307.70 L57.58,307.70 L58.15,307.70 L58.72,307.70 L59.28,307.70 L59.85,307.70 L60.42,307.70 L60.98,307.70 L61.55,307.70 L62.12,307.70 L62.69,307.70 L63.25,307.70 L63.82,307.70 L64.39,307.70 L64.95,307.70 L65.52,307.70 L66.09,307.70 L66.65,307.70 L67.22,307.70 L67.79,307.70 L68.36,307.70 L68.92,307.70 L69.49,307.70 L70.06,307.70 L70.62,307.70 L71.19,307.70 L71.76,307.70 L72.32,307.70 L72.89,307.70 L73.46,307.70 L74.03,307.70 L74.59,307.70 L75.16,307.70 L75.73,307.70 L76.29,307.70 L76.86,307.70 L77.43,307.70 L77.99,307.70 L78.56,307.70 L79.13,307.70 L79.69,307.70 L80.26,307.70 L80.83,307.70 L81.40,307.70 L81.96,307.70 L82.53,307.70 L83.10,307.70 L83.66,307.70 L84.23,307.70 L84.80,307.70 L85.37,307.70 L85.93,307.70 L86.50,307.70 L87.07,307.70 L87.63,307.70 L88.20,307.70" fill="none" stroke="#585858" stroke-width="0.85" stroke-linejoin="round"/>
<path d="M31.50,307.60 L32.07,307.40 L32.63,307.22 L33.20,307.00 L33.77,306.74 L34.34,306.49 L34.90,306.48 L35.47,306.48 L36.04,306.46 L36.60,306.68 L37.17,306.36 L37.74,306.66 L38.30,306.71 L38.87,306.52 L39.44,306.41 L40.01,306.58 L40.57,306.43 L41.14,306.59 L41.71,306.26 L42.27,306.50 L42.84,306.48 L43.41,306.45 L43.97,306.28 L44.54,306.22 L45.11,306.43 L45.67,306.47 L46.24,306.38 L46.81,306.63 L47.38,306.45 L47.94,306.24 L48.51,306.26 L49.08,306.60 L49.64,306.20 L50.21,306.41 L50.78,306.09 L51.34,306.38 L51.91,306.43 L52.48,306.23 L53.05,306.03 L53.61,306.20 L54.18,305.86 L54.75,305.81 L55.31,305.86 L55.88,305.72 L56.45,305.38 L57.02,305.21 L57.58,304.98 L58.15,304.38 L58.72,303.59 L59.28,303.08 L59.85,302.67 L60.42,301.72 L60.98,300.66 L61.55,299.52 L62.12,299.32 L62.69,298.54 L63.25,297.29 L63.82,296.44 L64.39,295.98 L64.95,294.41 L65.52,293.15 L66.09,293.31 L66.65,292.53 L67.22,291.95 L67.79,291.55 L68.36,291.09 L68.92,291.61 L69.49,291.07 L70.06,291.95 L70.62,290.92 L71.19,292.16 L71.76,292.58 L72.32,292.59 L72.89,294.38 L73.46,295.80 L74.03,296.48 L74.59,298.52 L75.16,300.80 L75.73,302.67 L76.29,304.05 L76.86,305.48 L77.43,305.91 L77.99,307.03 L78.56,307.46 L79.13,307.60 L79.69,307.60 L80.26,307.60 L80.83,307.60 L81.40,307.60 L81.96,307.60 L82.53,307.60 L83.10,307.60 L83.66,307.60 L84.23,307.60 L84.80,307.60 L85.37,307.60 L85.93,307.60 L86.50,307.60 L87.07,307.60 L87.63,307.60 L88.20,307.60" fill="none" stroke="#000" stroke-width="1.5" stroke-linejoin="round"/>
<line x1="30.9" y1="262.4" x2="30.9" y2="308.9" stroke="#333" stroke-width="1.1"/>
<line x1="31.2" y1="282.8" x2="31.2" y2="308.1" stroke="#000" stroke-width="1.7"/>
<line x1="30.6" y1="307.9" x2="88.2" y2="307.9" stroke="#111" stroke-width="1.5"/>
<text transform="translate(26.2,264.4) rotate(-90)" font-size="5" fill="#777" text-anchor="middle">100</text>
<text x="27.4" y="310.1" font-size="5" fill="#555" text-anchor="end">0</text>
<text x="29.9" y="315.4" font-size="5.8" fill="#333" text-anchor="middle">10<tspan dy="-2.6" font-size="4.4">0</tspan></text>
<text x="44.3" y="315.4" font-size="5.8" fill="#333" text-anchor="middle">10<tspan dy="-2.6" font-size="4.4">1</tspan></text>
<text x="58.7" y="315.4" font-size="5.8" fill="#333" text-anchor="middle">10<tspan dy="-2.6" font-size="4.4">2</tspan></text>
<text x="73.1" y="315.4" font-size="5.8" fill="#333" text-anchor="middle">10<tspan dy="-2.6" font-size="4.4">3</tspan></text>
<text x="87.5" y="315.4" font-size="5.8" fill="#333" text-anchor="middle">10<tspan dy="-2.6" font-size="4.4">4</tspan></text>
<path d="M106.1,262.9 H163.7 V309.2" fill="none" stroke="#666" stroke-width="1.2"/>
<line x1="104.1" y1="308.4" x2="106.1" y2="308.4" stroke="#888" stroke-width="0.8"/>
<line x1="104.1" y1="299.3" x2="106.1" y2="299.3" stroke="#888" stroke-width="0.8"/>
<line x1="104.1" y1="290.2" x2="106.1" y2="290.2" stroke="#888" stroke-width="0.8"/>
<line x1="104.1" y1="281.1" x2="106.1" y2="281.1" stroke="#888" stroke-width="0.8"/>
<line x1="104.1" y1="272.0" x2="106.1" y2="272.0" stroke="#888" stroke-width="0.8"/>
<line x1="104.1" y1="262.9" x2="106.1" y2="262.9" stroke="#888" stroke-width="0.8"/>
<path d="M107.00,308.00 L107.57,301.21 L108.13,300.04 L108.70,299.05 L109.27,298.57 L109.83,297.77 L110.40,297.37 L110.97,297.49 L111.54,297.87 L112.10,296.06 L112.67,296.33 L113.24,297.14 L113.80,296.08 L114.37,294.94 L114.94,293.79 L115.50,294.86 L116.07,294.14 L116.64,292.35 L117.21,291.63 L117.77,289.91 L118.34,289.36 L118.91,289.80 L119.47,289.24 L120.04,288.73 L120.61,288.26 L121.17,290.20 L121.74,290.71 L122.31,292.42 L122.88,292.48 L123.44,294.84 L124.01,294.25 L124.58,296.47 L125.14,297.91 L125.71,300.22 L126.28,301.40 L126.84,302.31 L127.41,302.89 L127.98,304.22 L128.55,305.34 L129.11,305.56 L129.68,306.53 L130.25,307.34 L130.81,307.91 L131.38,308.00 L131.95,308.00 L132.51,308.00 L133.08,308.00 L133.65,308.00 L134.22,308.00 L134.78,308.00 L135.35,308.00 L135.92,308.00 L136.48,308.00 L137.05,308.00 L137.62,308.00 L138.19,308.00 L138.75,308.00 L139.32,308.00 L139.89,308.00 L140.45,308.00 L141.02,308.00 L141.59,308.00 L142.15,308.00 L142.72,308.00 L143.29,308.00 L143.85,308.00 L144.42,308.00 L144.99,308.00 L145.56,308.00 L146.12,308.00 L146.69,308.00 L147.26,308.00 L147.82,308.00 L148.39,308.00 L148.96,308.00 L149.52,308.00 L150.09,308.00 L150.66,308.00 L151.23,308.00 L151.79,308.00 L152.36,308.00 L152.93,308.00 L153.49,308.00 L154.06,308.00 L154.63,308.00 L155.19,308.00 L155.76,308.00 L156.33,308.00 L156.90,308.00 L157.46,308.00 L158.03,308.00 L158.60,308.00 L159.16,308.00 L159.73,308.00 L160.30,308.00 L160.86,308.00 L161.43,308.00 L162.00,308.00 L162.57,308.00 L163.13,308.00 L163.70,308.00" fill="none" stroke="#585858" stroke-width="0.85" stroke-linejoin="round"/>
<path d="M107.00,307.90 L107.57,307.69 L108.13,307.55 L108.70,307.31 L109.27,306.91 L109.83,307.15 L110.40,306.95 L110.97,306.89 L111.54,306.98 L112.10,306.78 L112.67,306.69 L113.24,306.69 L113.80,306.73 L114.37,306.95 L114.94,307.00 L115.50,306.81 L116.07,306.85 L116.64,306.89 L117.21,306.55 L117.77,306.85 L118.34,306.55 L118.91,306.48 L119.47,306.86 L120.04,306.46 L120.61,306.71 L121.17,306.79 L121.74,306.79 L122.31,306.86 L122.88,306.62 L123.44,306.67 L124.01,306.42 L124.58,306.42 L125.14,306.81 L125.71,306.63 L126.28,306.63 L126.84,306.73 L127.41,306.69 L127.98,306.68 L128.55,306.46 L129.11,306.63 L129.68,306.75 L130.25,306.69 L130.81,306.57 L131.38,306.51 L131.95,306.67 L132.51,306.43 L133.08,306.68 L133.65,306.45 L134.22,306.48 L134.78,306.70 L135.35,306.40 L135.92,306.59 L136.48,306.51 L137.05,306.48 L137.62,306.47 L138.19,306.56 L138.75,306.76 L139.32,306.39 L139.89,306.35 L140.45,306.54 L141.02,306.49 L141.59,306.54 L142.15,305.83 L142.72,305.42 L143.29,305.10 L143.85,303.85 L144.42,302.83 L144.99,302.60 L145.56,300.79 L146.12,299.89 L146.69,298.57 L147.26,295.94 L147.82,294.69 L148.39,292.36 L148.96,291.22 L149.52,290.85 L150.09,289.00 L150.66,287.43 L151.23,287.29 L151.79,286.91 L152.36,286.73 L152.93,288.33 L153.49,289.55 L154.06,290.86 L154.63,291.90 L155.19,294.53 L155.76,296.64 L156.33,297.81 L156.90,300.22 L157.46,302.36 L158.03,303.19 L158.60,304.17 L159.16,305.30 L159.73,305.79 L160.30,306.53 L160.86,307.07 L161.43,307.51 L162.00,307.72 L162.57,307.71 L163.13,307.80 L163.70,307.90" fill="none" stroke="#000" stroke-width="1.5" stroke-linejoin="round"/>
<line x1="106.4" y1="262.4" x2="106.4" y2="309.2" stroke="#333" stroke-width="1.1"/>
<line x1="106.7" y1="267.4" x2="106.7" y2="308.4" stroke="#000" stroke-width="1.7"/>
<line x1="106.1" y1="308.2" x2="163.7" y2="308.2" stroke="#111" stroke-width="1.5"/>
<text x="105.4" y="315.7" font-size="5.8" fill="#333" text-anchor="middle">10<tspan dy="-2.6" font-size="4.4">0</tspan></text>
<text x="119.8" y="315.7" font-size="5.8" fill="#333" text-anchor="middle">10<tspan dy="-2.6" font-size="4.4">1</tspan></text>
<text x="134.2" y="315.7" font-size="5.8" fill="#333" text-anchor="middle">10<tspan dy="-2.6" font-size="4.4">2</tspan></text>
<text x="148.6" y="315.7" font-size="5.8" fill="#333" text-anchor="middle">10<tspan dy="-2.6" font-size="4.4">3</tspan></text>
<text x="163.0" y="315.7" font-size="5.8" fill="#333" text-anchor="middle">10<tspan dy="-2.6" font-size="4.4">4</tspan></text>
<path d="M30.6,324.5 H88.2 V369.8" fill="none" stroke="#666" stroke-width="1.2"/>
<line x1="28.6" y1="369.0" x2="30.6" y2="369.0" stroke="#888" stroke-width="0.8"/>
<line x1="28.6" y1="360.1" x2="30.6" y2="360.1" stroke="#888" stroke-width="0.8"/>
<line x1="28.6" y1="351.2" x2="30.6" y2="351.2" stroke="#888" stroke-width="0.8"/>
<line x1="28.6" y1="342.3" x2="30.6" y2="342.3" stroke="#888" stroke-width="0.8"/>
<line x1="28.6" y1="333.4" x2="30.6" y2="333.4" stroke="#888" stroke-width="0.8"/>
<line x1="28.6" y1="324.5" x2="30.6" y2="324.5" stroke="#888" stroke-width="0.8"/>
<path d="M31.50,368.60 L32.07,360.30 L32.63,358.62 L33.20,358.13 L33.77,357.09 L34.34,356.34 L34.90,356.49 L35.47,355.23 L36.04,355.02 L36.60,354.76 L37.17,354.44 L37.74,352.44 L38.30,351.56 L38.87,349.29 L39.44,348.84 L40.01,346.89 L40.57,345.85 L41.14,344.17 L41.71,342.82 L42.27,343.02 L42.84,342.79 L43.41,342.14 L43.97,343.47 L44.54,344.06 L45.11,346.10 L45.67,347.58 L46.24,348.13 L46.81,349.02 L47.38,350.91 L47.94,353.46 L48.51,355.54 L49.08,357.89 L49.64,359.12 L50.21,360.74 L50.78,361.54 L51.34,364.11 L51.91,364.35 L52.48,365.64 L53.05,366.32 L53.61,366.99 L54.18,367.01 L54.75,367.87 L55.31,368.11 L55.88,368.50 L56.45,368.60 L57.02,368.60 L57.58,368.60 L58.15,368.60 L58.72,368.60 L59.28,368.60 L59.85,368.60 L60.42,368.60 L60.98,368.60 L61.55,368.60 L62.12,368.60 L62.69,368.60 L63.25,368.60 L63.82,368.60 L64.39,368.60 L64.95,368.60 L65.52,368.60 L66.09,368.60 L66.65,368.60 L67.22,368.60 L67.79,368.60 L68.36,368.60 L68.92,368.60 L69.49,368.60 L70.06,368.60 L70.62,368.60 L71.19,368.60 L71.76,368.60 L72.32,368.60 L72.89,368.60 L73.46,368.60 L74.03,368.60 L74.59,368.60 L75.16,368.60 L75.73,368.60 L76.29,368.60 L76.86,368.60 L77.43,368.60 L77.99,368.60 L78.56,368.60 L79.13,368.60 L79.69,368.60 L80.26,368.60 L80.83,368.60 L81.40,368.60 L81.96,368.60 L82.53,368.60 L83.10,368.60 L83.66,368.60 L84.23,368.60 L84.80,368.60 L85.37,368.60 L85.93,368.60 L86.50,368.60 L87.07,368.60 L87.63,368.60 L88.20,368.60" fill="none" stroke="#585858" stroke-width="0.85" stroke-linejoin="round"/>
<path d="M31.50,368.50 L32.07,368.50 L32.63,368.50 L33.20,368.50 L33.77,368.50 L34.34,368.50 L34.90,368.49 L35.47,368.46 L36.04,368.42 L36.60,368.37 L37.17,368.30 L37.74,368.22 L38.30,368.21 L38.87,368.11 L39.44,367.75 L40.01,367.68 L40.57,367.56 L41.14,367.34 L41.71,367.55 L42.27,367.10 L42.84,366.91 L43.41,367.02 L43.97,366.72 L44.54,366.22 L45.11,366.43 L45.67,365.95 L46.24,366.12 L46.81,365.49 L47.38,365.48 L47.94,364.92 L48.51,364.63 L49.08,363.70 L49.64,363.28 L50.21,362.92 L50.78,362.07 L51.34,361.39 L51.91,359.51 L52.48,358.57 L53.05,356.39 L53.61,354.57 L54.18,352.69 L54.75,350.70 L55.31,348.00 L55.88,345.19 L56.45,344.66 L57.02,343.65 L57.58,344.37 L58.15,344.21 L58.72,345.10 L59.28,346.10 L59.85,347.48 L60.42,348.76 L60.98,348.65 L61.55,349.09 L62.12,349.58 L62.69,351.53 L63.25,352.43 L63.82,351.96 L64.39,353.21 L64.95,354.52 L65.52,355.10 L66.09,357.03 L66.65,357.48 L67.22,358.34 L67.79,359.43 L68.36,360.92 L68.92,361.78 L69.49,362.04 L70.06,362.59 L70.62,364.11 L71.19,364.93 L71.76,365.53 L72.32,365.63 L72.89,366.49 L73.46,367.06 L74.03,367.45 L74.59,368.13 L75.16,368.46 L75.73,368.50 L76.29,368.50 L76.86,368.50 L77.43,368.50 L77.99,368.50 L78.56,368.50 L79.13,368.50 L79.69,368.50 L80.26,368.50 L80.83,368.50 L81.40,368.50 L81.96,368.50 L82.53,368.50 L83.10,368.50 L83.66,368.50 L84.23,368.50 L84.80,368.50 L85.37,368.50 L85.93,368.50 L86.50,368.50 L87.07,368.50 L87.63,368.50 L88.20,368.50" fill="none" stroke="#000" stroke-width="1.5" stroke-linejoin="round"/>
<line x1="30.9" y1="324.0" x2="30.9" y2="369.8" stroke="#333" stroke-width="1.1"/>
<line x1="31.2" y1="343.6" x2="31.2" y2="369.0" stroke="#000" stroke-width="1.7"/>
<line x1="30.6" y1="368.8" x2="88.2" y2="368.8" stroke="#111" stroke-width="1.5"/>
<text transform="translate(26.2,326.0) rotate(-90)" font-size="5" fill="#777" text-anchor="middle">100</text>
<text x="27.4" y="371.0" font-size="5" fill="#555" text-anchor="end">0</text>
<text x="29.9" y="376.3" font-size="5.8" fill="#333" text-anchor="middle">10<tspan dy="-2.6" font-size="4.4">0</tspan></text>
<text x="44.3" y="376.3" font-size="5.8" fill="#333" text-anchor="middle">10<tspan dy="-2.6" font-size="4.4">1</tspan></text>
<text x="58.7" y="376.3" font-size="5.8" fill="#333" text-anchor="middle">10<tspan dy="-2.6" font-size="4.4">2</tspan></text>
<text x="73.1" y="376.3" font-size="5.8" fill="#333" text-anchor="middle">10<tspan dy="-2.6" font-size="4.4">3</tspan></text>
<text x="87.5" y="376.3" font-size="5.8" fill="#333" text-anchor="middle">10<tspan dy="-2.6" font-size="4.4">4</tspan></text>
<path d="M106.1,324.5 H163.7 V370.2" fill="none" stroke="#666" stroke-width="1.2"/>
<line x1="104.1" y1="369.4" x2="106.1" y2="369.4" stroke="#888" stroke-width="0.8"/>
<line x1="104.1" y1="360.4" x2="106.1" y2="360.4" stroke="#888" stroke-width="0.8"/>
<line x1="104.1" y1="351.4" x2="106.1" y2="351.4" stroke="#888" stroke-width="0.8"/>
<line x1="104.1" y1="342.5" x2="106.1" y2="342.5" stroke="#888" stroke-width="0.8"/>
<line x1="104.1" y1="333.5" x2="106.1" y2="333.5" stroke="#888" stroke-width="0.8"/>
<line x1="104.1" y1="324.5" x2="106.1" y2="324.5" stroke="#888" stroke-width="0.8"/>
<path d="M107.00,369.00 L107.57,361.23 L108.13,358.85 L108.70,358.87 L109.27,357.54 L109.83,356.15 L110.40,356.68 L110.97,356.48 L111.54,354.95 L112.10,354.52 L112.67,352.20 L113.24,352.70 L113.80,349.98 L114.37,349.41 L114.94,347.20 L115.50,346.60 L116.07,344.97 L116.64,344.63 L117.21,344.07 L117.77,343.16 L118.34,342.38 L118.91,343.58 L119.47,344.45 L120.04,344.99 L120.61,346.72 L121.17,347.48 L121.74,348.20 L122.31,349.80 L122.88,351.73 L123.44,354.58 L124.01,357.26 L124.58,359.06 L125.14,360.09 L125.71,361.81 L126.28,362.72 L126.84,364.44 L127.41,365.13 L127.98,366.42 L128.55,367.45 L129.11,368.47 L129.68,369.00 L130.25,369.00 L130.81,369.00 L131.38,369.00 L131.95,369.00 L132.51,369.00 L133.08,369.00 L133.65,369.00 L134.22,369.00 L134.78,369.00 L135.35,369.00 L135.92,369.00 L136.48,369.00 L137.05,369.00 L137.62,369.00 L138.19,369.00 L138.75,369.00 L139.32,369.00 L139.89,369.00 L140.45,369.00 L141.02,369.00 L141.59,369.00 L142.15,369.00 L142.72,369.00 L143.29,369.00 L143.85,369.00 L144.42,369.00 L144.99,369.00 L145.56,369.00 L146.12,369.00 L146.69,369.00 L147.26,369.00 L147.82,369.00 L148.39,369.00 L148.96,369.00 L149.52,369.00 L150.09,369.00 L150.66,369.00 L151.23,369.00 L151.79,369.00 L152.36,369.00 L152.93,369.00 L153.49,369.00 L154.06,369.00 L154.63,369.00 L155.19,369.00 L155.76,369.00 L156.33,369.00 L156.90,369.00 L157.46,369.00 L158.03,369.00 L158.60,369.00 L159.16,369.00 L159.73,369.00 L160.30,369.00 L160.86,369.00 L161.43,369.00 L162.00,369.00 L162.57,369.00 L163.13,369.00 L163.70,369.00" fill="none" stroke="#585858" stroke-width="0.85" stroke-linejoin="round"/>
<path d="M107.00,368.90 L107.57,368.70 L108.13,368.48 L108.70,368.30 L109.27,368.18 L109.83,368.18 L110.40,367.82 L110.97,367.89 L111.54,368.02 L112.10,367.59 L112.67,367.71 L113.24,367.65 L113.80,367.70 L114.37,367.82 L114.94,367.35 L115.50,367.74 L116.07,367.62 L116.64,367.27 L117.21,367.70 L117.77,367.49 L118.34,367.48 L118.91,367.58 L119.47,367.21 L120.04,367.47 L120.61,367.67 L121.17,367.41 L121.74,367.65 L122.31,367.26 L122.88,367.16 L123.44,367.13 L124.01,367.59 L124.58,367.23 L125.14,367.43 L125.71,367.32 L126.28,367.40 L126.84,367.39 L127.41,367.47 L127.98,367.17 L128.55,367.46 L129.11,366.94 L129.68,367.44 L130.25,366.89 L130.81,367.31 L131.38,367.35 L131.95,366.92 L132.51,367.01 L133.08,366.83 L133.65,366.95 L134.22,366.83 L134.78,367.12 L135.35,366.69 L135.92,366.74 L136.48,366.38 L137.05,366.94 L137.62,366.78 L138.19,366.15 L138.75,365.69 L139.32,365.74 L139.89,365.09 L140.45,364.74 L141.02,364.36 L141.59,363.69 L142.15,362.87 L142.72,362.65 L143.29,360.67 L143.85,357.73 L144.42,355.78 L144.99,352.71 L145.56,350.42 L146.12,346.95 L146.69,342.85 L147.26,339.30 L147.82,336.32 L148.39,335.77 L148.96,336.65 L149.52,338.25 L150.09,341.17 L150.66,343.28 L151.23,345.04 L151.79,347.59 L152.36,350.86 L152.93,353.54 L153.49,355.99 L154.06,357.69 L154.63,358.85 L155.19,360.70 L155.76,361.35 L156.33,363.01 L156.90,364.34 L157.46,365.17 L158.03,366.22 L158.60,366.38 L159.16,366.97 L159.73,367.68 L160.30,367.91 L160.86,368.43 L161.43,368.73 L162.00,368.87 L162.57,368.90 L163.13,368.90 L163.70,368.90" fill="none" stroke="#000" stroke-width="1.5" stroke-linejoin="round"/>
<line x1="106.4" y1="324.0" x2="106.4" y2="370.2" stroke="#333" stroke-width="1.1"/>
<line x1="106.7" y1="343.8" x2="106.7" y2="369.4" stroke="#000" stroke-width="1.7"/>
<line x1="106.1" y1="369.2" x2="163.7" y2="369.2" stroke="#111" stroke-width="1.5"/>
<text x="105.4" y="376.7" font-size="5.8" fill="#333" text-anchor="middle">10<tspan dy="-2.6" font-size="4.4">0</tspan></text>
<text x="119.8" y="376.7" font-size="5.8" fill="#333" text-anchor="middle">10<tspan dy="-2.6" font-size="4.4">1</tspan></text>
<text x="134.2" y="376.7" font-size="5.8" fill="#333" text-anchor="middle">10<tspan dy="-2.6" font-size="4.4">2</tspan></text>
<text x="148.6" y="376.7" font-size="5.8" fill="#333" text-anchor="middle">10<tspan dy="-2.6" font-size="4.4">3</tspan></text>
<text x="163.0" y="376.7" font-size="5.8" fill="#333" text-anchor="middle">10<tspan dy="-2.6" font-size="4.4">4</tspan></text>
<text x="195.0" y="40.7" font-size="10.45" text-anchor="middle">Scramble</text>
<text x="195.0" y="53.4" font-size="10.45" text-anchor="middle">Ilk467</text>
<text x="195.0" y="109.2" font-size="10.45" text-anchor="middle">Ilk467</text>
<text x="195.0" y="162.9" font-size="10.45" text-anchor="middle">Scramble</text>
<text x="195.0" y="175.6" font-size="10.45" text-anchor="middle">Ilk1255</text>
<text x="195.0" y="230.4" font-size="10.45" text-anchor="middle">Ilk1255</text>
<text x="195.0" y="283.2" font-size="10.45" text-anchor="middle">Scramble</text>
<text x="195.0" y="295.9" font-size="10.45" text-anchor="middle">Tln5465</text>
<text x="195.0" y="351.5" font-size="10.45" text-anchor="middle">Tln5465</text>
<text transform="translate(8.0,193) rotate(-90)" font-size="10.6" text-anchor="middle">Cell counts</text>
<text x="93.5" y="397" font-size="10.55" text-anchor="middle">PAC-1 binding (PE)</text>
<text x="230.5" y="13" font-size="10.6" font-weight="bold">B</text>
<path d="M284.2,7.6 H516.3 V152.8" fill="none" stroke="#333" stroke-width="1"/>
<line x1="284.2" y1="7.6" x2="284.2" y2="149.3" stroke="#222" stroke-width="1"/>
<line x1="284.2" y1="149.3" x2="516.3" y2="149.3" stroke="#222" stroke-width="1"/>
<line x1="281.2" y1="149.3" x2="284.2" y2="149.3" stroke="#222" stroke-width="1"/>
<text x="276.6" y="153.8" font-size="10.6" text-anchor="end">0</text>
<line x1="281.2" y1="133.6" x2="284.2" y2="133.6" stroke="#222" stroke-width="1"/>
<text x="276.6" y="138.1" font-size="10.6" text-anchor="end">5</text>
<line x1="281.2" y1="117.8" x2="284.2" y2="117.8" stroke="#222" stroke-width="1"/>
<text x="276.6" y="122.3" font-size="10.6" text-anchor="end">10</text>
<line x1="281.2" y1="102.1" x2="284.2" y2="102.1" stroke="#222" stroke-width="1"/>
<text x="276.6" y="106.6" font-size="10.6" text-anchor="end">15</text>
<line x1="281.2" y1="86.3" x2="284.2" y2="86.3" stroke="#222" stroke-width="1"/>
<text x="276.6" y="90.8" font-size="10.6" text-anchor="end">20</text>
<line x1="281.2" y1="70.6" x2="284.2" y2="70.6" stroke="#222" stroke-width="1"/>
<text x="276.6" y="75.1" font-size="10.6" text-anchor="end">25</text>
<line x1="281.2" y1="54.8" x2="284.2" y2="54.8" stroke="#222" stroke-width="1"/>
<text x="276.6" y="59.3" font-size="10.6" text-anchor="end">30</text>
<line x1="281.2" y1="39.1" x2="284.2" y2="39.1" stroke="#222" stroke-width="1"/>
<text x="276.6" y="43.6" font-size="10.6" text-anchor="end">35</text>
<line x1="281.2" y1="23.3" x2="284.2" y2="23.3" stroke="#222" stroke-width="1"/>
<text x="276.6" y="27.8" font-size="10.6" text-anchor="end">40</text>
<line x1="281.2" y1="7.6" x2="284.2" y2="7.6" stroke="#222" stroke-width="1"/>
<text x="276.6" y="12.1" font-size="10.6" text-anchor="end">45</text>
<line x1="284.2" y1="149.3" x2="284.2" y2="152.8" stroke="#222" stroke-width="1"/>
<line x1="322.9" y1="149.3" x2="322.9" y2="152.8" stroke="#222" stroke-width="1"/>
<line x1="361.6" y1="149.3" x2="361.6" y2="152.8" stroke="#222" stroke-width="1"/>
<line x1="400.2" y1="149.3" x2="400.2" y2="152.8" stroke="#222" stroke-width="1"/>
<line x1="438.9" y1="149.3" x2="438.9" y2="152.8" stroke="#222" stroke-width="1"/>
<line x1="477.6" y1="149.3" x2="477.6" y2="152.8" stroke="#222" stroke-width="1"/>
<line x1="516.3" y1="149.3" x2="516.3" y2="152.8" stroke="#222" stroke-width="1"/>
<line x1="303.5" y1="75.2" x2="303.5" y2="65.1" stroke="#222" stroke-width="1"/>
<line x1="300.3" y1="65.1" x2="306.7" y2="65.1" stroke="#222" stroke-width="1"/>
<rect x="293.7" y="75.2" width="19.6" height="74.1" fill="#949494" stroke="#333" stroke-width="1"/>
<line x1="342.2" y1="123.0" x2="342.2" y2="117.2" stroke="#222" stroke-width="1"/>
<line x1="339.0" y1="117.2" x2="345.4" y2="117.2" stroke="#222" stroke-width="1"/>
<rect x="332.4" y="123.0" width="19.6" height="26.3" fill="#949494" stroke="#333" stroke-width="1"/>
<line x1="380.9" y1="51.5" x2="380.9" y2="43.0" stroke="#222" stroke-width="1"/>
<line x1="377.7" y1="43.0" x2="384.1" y2="43.0" stroke="#222" stroke-width="1"/>
<rect x="371.1" y="51.5" width="19.6" height="97.8" fill="#949494" stroke="#333" stroke-width="1"/>
<line x1="419.6" y1="132.0" x2="419.6" y2="126.5" stroke="#222" stroke-width="1"/>
<line x1="416.4" y1="126.5" x2="422.8" y2="126.5" stroke="#222" stroke-width="1"/>
<rect x="409.8" y="132.0" width="19.6" height="17.3" fill="#949494" stroke="#333" stroke-width="1"/>
<line x1="458.3" y1="42.7" x2="458.3" y2="29.0" stroke="#222" stroke-width="1"/>
<line x1="455.1" y1="29.0" x2="461.5" y2="29.0" stroke="#222" stroke-width="1"/>
<rect x="448.5" y="42.7" width="19.6" height="106.6" fill="#fff" stroke="#333" stroke-width="1"/>
<line x1="497.0" y1="116.5" x2="497.0" y2="109.5" stroke="#222" stroke-width="1"/>
<line x1="493.8" y1="109.5" x2="500.2" y2="109.5" stroke="#222" stroke-width="1"/>
<rect x="487.2" y="116.5" width="19.6" height="32.8" fill="#fff" stroke="#333" stroke-width="1"/>
<text transform="translate(247.6,79.6) rotate(-90)" font-size="10.6" text-anchor="middle">Activation index (%)</text>
<g transform="translate(303.8,160.5) rotate(-36)"><text x="-21" y="0" font-size="10.5" text-anchor="middle">Scramble</text><text x="-21" y="10.2" font-size="10.5" text-anchor="middle">Ilk467</text></g>
<g transform="translate(344.7,166.0) rotate(-36)"><text x="0" y="0" font-size="10.4" text-anchor="end">Ilk467</text></g>
<g transform="translate(382.3,160.5) rotate(-36)"><text x="-21" y="0" font-size="10.5" text-anchor="middle">Scramble</text><text x="-21" y="10.2" font-size="10.5" text-anchor="middle">Ilk1255</text></g>
<g transform="translate(423.2,166.0) rotate(-36)"><text x="0" y="0" font-size="10.4" text-anchor="end">Ilk1255</text></g>
<g transform="translate(460.8,160.5) rotate(-36)"><text x="-21" y="0" font-size="10.5" text-anchor="middle">Scramble</text><text x="-21" y="10.2" font-size="10.5" text-anchor="middle">Tln5465</text></g>
<g transform="translate(501.7,166.0) rotate(-36)"><text x="0" y="0" font-size="10.4" text-anchor="end">Tln5465</text></g>
<text x="231" y="209.4" font-size="10" font-weight="bold">C</text>
<text x="279.9" y="208.5" font-size="10.45" text-anchor="middle">Scramble</text>
<line x1="253" y1="214.9" x2="308" y2="214.9" stroke="#333" stroke-width="1.3"/>
<text transform="translate(262.9,262.8) rotate(-90)" font-size="10.3">Ilk467</text>
<text transform="translate(282.9,262.8) rotate(-90)" font-size="10.3">Ilk1255</text>
<text transform="translate(304.6,262.8) rotate(-90)" font-size="10.3">Tln5465</text>
<text transform="translate(324.7,262.8) rotate(-90)" font-size="10.3">Ilk467</text>
<text transform="translate(345.7,262.8) rotate(-90)" font-size="10.3">Ilk1255</text>
<text transform="translate(366.0,262.8) rotate(-90)" font-size="10.3">Tln5465</text>
<defs><linearGradient id="ilkbg" x1="0" y1="0" x2="0" y2="1"><stop offset="0" stop-color="#bdbdbd"/><stop offset="1" stop-color="#b1b1b1"/></linearGradient><linearGradient id="gapbg" x1="0" y1="0" x2="0" y2="1"><stop offset="0" stop-color="#e4e4e4"/><stop offset="1" stop-color="#d8d8d8"/></linearGradient><filter id="bl" x="-30%" y="-80%" width="160%" height="260%"><feGaussianBlur stdDeviation="0.8 0.6"/></filter><filter id="bl3" x="-30%" y="-80%" width="160%" height="260%"><feGaussianBlur stdDeviation="1.1 0.9"/></filter><filter id="bl2" x="-30%" y="-80%" width="160%" height="260%"><feGaussianBlur stdDeviation="0.5 0.4"/></filter></defs>
<rect x="244.2" y="269.2" width="134.2" height="31.7" fill="url(#ilkbg)" stroke="#333" stroke-width="1.2"/>
<rect x="244.2" y="307.6" width="134.2" height="31.3" fill="#fcfcfc" stroke="#333" stroke-width="1.2"/>
<rect x="244.2" y="347.0" width="134.2" height="31.0" fill="url(#gapbg)" stroke="#333" stroke-width="1.2"/>
<rect x="252.0" y="281.5" width="16.2" height="8.6" rx="3.5" fill="#000" fill-opacity="0.21" filter="url(#bl3)"/>
<rect x="253.1" y="282.4" width="14.0" height="5.8" rx="2.7" fill="#000" fill-opacity="0.42" filter="url(#bl)"/>
<rect x="272.7" y="281.9" width="16.2" height="6.8" rx="2.6" fill="#000" fill-opacity="0.46" filter="url(#bl3)"/>
<rect x="273.8" y="282.8" width="14.0" height="4.0" rx="2.0" fill="#000" fill-opacity="0.92" filter="url(#bl)"/>
<rect x="293.5" y="281.9" width="15.6" height="6.8" rx="2.6" fill="#000" fill-opacity="0.46" filter="url(#bl3)"/>
<rect x="294.6" y="282.8" width="13.4" height="4.0" rx="2.0" fill="#000" fill-opacity="0.92" filter="url(#bl)"/>
<rect x="313.2" y="282.7" width="16.4" height="6.2" rx="2.3" fill="#000" fill-opacity="0.02" filter="url(#bl3)"/>
<rect x="314.3" y="283.6" width="14.2" height="3.4" rx="1.8" fill="#000" fill-opacity="0.04" filter="url(#bl)"/>
<rect x="334.0" y="282.7" width="16.2" height="6.2" rx="2.3" fill="#000" fill-opacity="0.01" filter="url(#bl3)"/>
<rect x="335.1" y="283.6" width="14.0" height="3.4" rx="1.8" fill="#000" fill-opacity="0.03" filter="url(#bl)"/>
<rect x="355.2" y="283.5" width="14.8" height="6.0" rx="2.2" fill="#000" fill-opacity="0.42" filter="url(#bl3)"/>
<rect x="356.3" y="284.4" width="12.6" height="3.2" rx="1.7" fill="#000" fill-opacity="0.85" filter="url(#bl)"/>
<rect x="252.4" y="320.9" width="15.0" height="7.8" rx="3.1" fill="#000" fill-opacity="0.50" filter="url(#bl3)"/>
<rect x="253.5" y="321.8" width="12.8" height="5.0" rx="2.4" fill="#000" fill-opacity="1.00" filter="url(#bl)"/>
<rect x="272.0" y="321.5" width="15.4" height="7.2" rx="2.8" fill="#000" fill-opacity="0.50" filter="url(#bl3)"/>
<rect x="273.1" y="322.4" width="13.2" height="4.4" rx="2.2" fill="#000" fill-opacity="1.00" filter="url(#bl)"/>
<rect x="292.9" y="321.5" width="15.5" height="6.6" rx="2.5" fill="#000" fill-opacity="0.49" filter="url(#bl3)"/>
<rect x="294.0" y="322.4" width="13.3" height="3.8" rx="1.9" fill="#000" fill-opacity="0.98" filter="url(#bl)"/>
<rect x="312.8" y="320.9" width="16.7" height="7.2" rx="2.8" fill="#000" fill-opacity="0.50" filter="url(#bl3)"/>
<rect x="313.9" y="321.8" width="14.5" height="4.4" rx="2.2" fill="#000" fill-opacity="1.00" filter="url(#bl)"/>
<rect x="334.3" y="321.1" width="16.1" height="7.0" rx="2.7" fill="#000" fill-opacity="0.50" filter="url(#bl3)"/>
<rect x="335.4" y="322.0" width="13.9" height="4.2" rx="2.1" fill="#000" fill-opacity="1.00" filter="url(#bl)"/>
<rect x="251.8" y="359.5" width="16.8" height="6.4" rx="2.4" fill="#000" fill-opacity="0.50" filter="url(#bl3)"/>
<rect x="252.9" y="360.4" width="14.6" height="3.6" rx="1.8" fill="#000" fill-opacity="1.00" filter="url(#bl)"/>
<rect x="271.3" y="360.1" width="17.2" height="5.8" rx="2.1" fill="#000" fill-opacity="0.48" filter="url(#bl3)"/>
<rect x="272.4" y="361.0" width="15.0" height="3.0" rx="1.6" fill="#000" fill-opacity="0.97" filter="url(#bl)"/>
<rect x="291.2" y="360.3" width="16.7" height="5.6" rx="2.0" fill="#000" fill-opacity="0.48" filter="url(#bl3)"/>
<rect x="292.3" y="361.2" width="14.5" height="2.8" rx="1.5" fill="#000" fill-opacity="0.97" filter="url(#bl)"/>
<rect x="311.6" y="360.5" width="17.8" height="6.4" rx="2.4" fill="#000" fill-opacity="0.50" filter="url(#bl3)"/>
<rect x="312.7" y="361.4" width="15.6" height="3.6" rx="1.8" fill="#000" fill-opacity="1.00" filter="url(#bl)"/>
<rect x="332.3" y="360.5" width="17.4" height="6.2" rx="2.3" fill="#000" fill-opacity="0.49" filter="url(#bl3)"/>
<rect x="333.4" y="361.4" width="15.2" height="3.4" rx="1.8" fill="#000" fill-opacity="0.98" filter="url(#bl)"/>
<rect x="352.5" y="360.7" width="18.4" height="6.4" rx="2.4" fill="#000" fill-opacity="0.50" filter="url(#bl3)"/>
<rect x="353.6" y="361.6" width="16.2" height="3.6" rx="1.8" fill="#000" fill-opacity="1.00" filter="url(#bl)"/>
<rect x="356.5" y="321.8" width="12.5" height="3.6" rx="1.6" fill="#000" fill-opacity="0.22" filter="url(#bl)"/>
<rect x="357.5" y="322.6" width="10.5" height="1.6" rx="0.8" fill="#000" fill-opacity="0.55" filter="url(#bl2)"/>
<text x="387.6" y="289.9" font-size="11.3">ILK</text>
<text x="387.6" y="327.1" font-size="12">Talin</text>
<text x="387.6" y="366.3" font-size="11.75">GAPDH</text>
<text x="229.6" y="400.2" font-size="10.6" font-weight="bold">D</text>
<path d="M275.3,533.7 V394.4 H389.8 V537.2" fill="none" stroke="#333" stroke-width="1"/>
<line x1="275.3" y1="533.7" x2="389.8" y2="533.7" stroke="#222" stroke-width="1"/>
<line x1="271.8" y1="533.7" x2="275.3" y2="533.7" stroke="#222" stroke-width="1"/>
<line x1="271.8" y1="510.5" x2="275.3" y2="510.5" stroke="#222" stroke-width="1"/>
<line x1="271.8" y1="487.3" x2="275.3" y2="487.3" stroke="#222" stroke-width="1"/>
<line x1="271.8" y1="464.1" x2="275.3" y2="464.1" stroke="#222" stroke-width="1"/>
<line x1="271.8" y1="440.8" x2="275.3" y2="440.8" stroke="#222" stroke-width="1"/>
<line x1="271.8" y1="417.6" x2="275.3" y2="417.6" stroke="#222" stroke-width="1"/>
<line x1="271.8" y1="394.4" x2="275.3" y2="394.4" stroke="#222" stroke-width="1"/>
<line x1="275.3" y1="533.7" x2="275.3" y2="537.2" stroke="#222" stroke-width="1"/>
<line x1="332.6" y1="533.7" x2="332.6" y2="537.2" stroke="#222" stroke-width="1"/>
<line x1="389.8" y1="533.7" x2="389.8" y2="537.2" stroke="#222" stroke-width="1"/>
<line x1="295.6" y1="457.8" x2="295.6" y2="455.2" stroke="#222" stroke-width="1"/>
<line x1="292.4" y1="455.2" x2="298.8" y2="455.2" stroke="#222" stroke-width="1"/>
<rect x="287.2" y="457.8" width="16.7" height="75.9" fill="#000" stroke="#222" stroke-width="1"/>
<line x1="312.3" y1="485.4" x2="312.3" y2="481.2" stroke="#222" stroke-width="1"/>
<line x1="309.1" y1="481.2" x2="315.5" y2="481.2" stroke="#222" stroke-width="1"/>
<rect x="303.9" y="485.4" width="16.7" height="48.3" fill="#fff" stroke="#222" stroke-width="1"/>
<text x="304.8" y="548.6" font-size="10.3" text-anchor="middle">5</text>
<line x1="352.8" y1="480.1" x2="352.8" y2="474.7" stroke="#222" stroke-width="1"/>
<line x1="349.6" y1="474.7" x2="356.0" y2="474.7" stroke="#222" stroke-width="1"/>
<rect x="344.5" y="480.1" width="16.7" height="53.6" fill="#000" stroke="#222" stroke-width="1"/>
<line x1="369.5" y1="508.4" x2="369.5" y2="504.2" stroke="#222" stroke-width="1"/>
<line x1="366.3" y1="504.2" x2="372.7" y2="504.2" stroke="#222" stroke-width="1"/>
<rect x="361.2" y="508.4" width="16.7" height="25.3" fill="#fff" stroke="#222" stroke-width="1"/>
<text x="362.1" y="548.6" font-size="10.3" text-anchor="middle">1.25</text>
<rect x="281.1" y="400.2" width="7" height="7" fill="#000"/>
<rect x="281.4" y="413.2" width="6.4" height="6.4" fill="#fff" stroke="#222" stroke-width="0.9"/>
<text x="289.3" y="407.1" font-size="9.6">Scramble Ilk1255</text>
<text x="289.3" y="419.9" font-size="9.6">Ilk1255</text>
<text x="380.3" y="407.4" font-size="9.6" font-weight="bold">i</text>
<path d="M403.2,533.7 V394.4 H518.3 V537.2" fill="none" stroke="#333" stroke-width="1"/>
<line x1="403.2" y1="533.7" x2="518.3" y2="533.7" stroke="#222" stroke-width="1"/>
<line x1="399.7" y1="533.7" x2="403.2" y2="533.7" stroke="#222" stroke-width="1"/>
<line x1="399.7" y1="510.5" x2="403.2" y2="510.5" stroke="#222" stroke-width="1"/>
<line x1="399.7" y1="487.3" x2="403.2" y2="487.3" stroke="#222" stroke-width="1"/>
<line x1="399.7" y1="464.1" x2="403.2" y2="464.1" stroke="#222" stroke-width="1"/>
<line x1="399.7" y1="440.8" x2="403.2" y2="440.8" stroke="#222" stroke-width="1"/>
<line x1="399.7" y1="417.6" x2="403.2" y2="417.6" stroke="#222" stroke-width="1"/>
<line x1="399.7" y1="394.4" x2="403.2" y2="394.4" stroke="#222" stroke-width="1"/>
<line x1="403.2" y1="533.7" x2="403.2" y2="537.2" stroke="#222" stroke-width="1"/>
<line x1="460.8" y1="533.7" x2="460.8" y2="537.2" stroke="#222" stroke-width="1"/>
<line x1="518.3" y1="533.7" x2="518.3" y2="537.2" stroke="#222" stroke-width="1"/>
<line x1="424.2" y1="487.3" x2="424.2" y2="484.5" stroke="#222" stroke-width="1"/>
<line x1="421.0" y1="484.5" x2="427.4" y2="484.5" stroke="#222" stroke-width="1"/>
<rect x="415.9" y="487.3" width="16.7" height="46.4" fill="#000" stroke="#222" stroke-width="1"/>
<line x1="440.9" y1="467.5" x2="440.9" y2="466.1" stroke="#222" stroke-width="1"/>
<line x1="437.7" y1="466.1" x2="444.1" y2="466.1" stroke="#222" stroke-width="1"/>
<rect x="432.6" y="467.5" width="16.7" height="66.2" fill="#fff" stroke="#222" stroke-width="1"/>
<text x="431.5" y="548.6" font-size="10.3" text-anchor="middle">5</text>
<line x1="481.8" y1="506.5" x2="481.8" y2="505.4" stroke="#222" stroke-width="1"/>
<line x1="478.6" y1="505.4" x2="485.0" y2="505.4" stroke="#222" stroke-width="1"/>
<rect x="473.4" y="506.5" width="16.7" height="27.2" fill="#000" stroke="#222" stroke-width="1"/>
<line x1="498.5" y1="480.1" x2="498.5" y2="477.1" stroke="#222" stroke-width="1"/>
<line x1="495.3" y1="477.1" x2="501.7" y2="477.1" stroke="#222" stroke-width="1"/>
<rect x="490.1" y="480.1" width="16.7" height="53.6" fill="#fff" stroke="#222" stroke-width="1"/>
<text x="489.0" y="548.6" font-size="10.3" text-anchor="middle">1.25</text>
<rect x="409.0" y="400.2" width="7" height="7" fill="#000"/>
<rect x="409.3" y="413.2" width="6.4" height="6.4" fill="#fff" stroke="#222" stroke-width="0.9"/>
<text x="417.2" y="407.1" font-size="9.6">Empty plasmid</text>
<text x="417.2" y="419.9" font-size="9.6">ILK plasmid</text>
<text x="507.3" y="407.4" font-size="9.6" font-weight="bold">ii</text>
<text x="267.3" y="538.7" font-size="10.3" text-anchor="end">0</text>
<text x="267.3" y="515.5" font-size="10.3" text-anchor="end">0.5</text>
<text x="267.3" y="492.3" font-size="10.3" text-anchor="end">1</text>
<text x="267.3" y="469.1" font-size="10.3" text-anchor="end">1.5</text>
<text x="267.3" y="445.8" font-size="10.3" text-anchor="end">2</text>
<text x="267.3" y="422.6" font-size="10.3" text-anchor="end">2.5</text>
<text x="267.3" y="399.4" font-size="10.3" text-anchor="end">3</text>
<text transform="translate(238.7,464.7) rotate(-90)" font-size="10.5" text-anchor="middle">OD 405 nm</text>
<text x="392.3" y="565" font-size="10.45" text-anchor="middle">Fibrinogen µg/mL</text>
<text x="305.2" y="443.0" font-size="7.2" text-anchor="middle"><tspan font-style="italic">P</tspan> &lt; .01</text>
<path d="M295.2,451.4 V448.0 H313.0 V451.4" fill="none" stroke="#222" stroke-width="1"/>
<text x="361.8" y="462.5" font-size="7.2" text-anchor="middle"><tspan font-style="italic">P</tspan> &lt; .01</text>
<path d="M352.5,470.4 V467.0 H370.0 V470.4" fill="none" stroke="#222" stroke-width="1"/>
<text x="432.3" y="453.8" font-size="7.2" text-anchor="middle"><tspan font-style="italic">P</tspan> &lt; .01</text>
<path d="M424.5,462.4 V459.0 H440.3 V462.4" fill="none" stroke="#222" stroke-width="1"/>
<text x="489.2" y="465.5" font-size="7.2" text-anchor="middle"><tspan font-style="italic">P</tspan> &lt; .01</text>
<path d="M481.6,473.4 V470.0 H498.4 V473.4" fill="none" stroke="#222" stroke-width="1"/>
</svg>
</body></html>
